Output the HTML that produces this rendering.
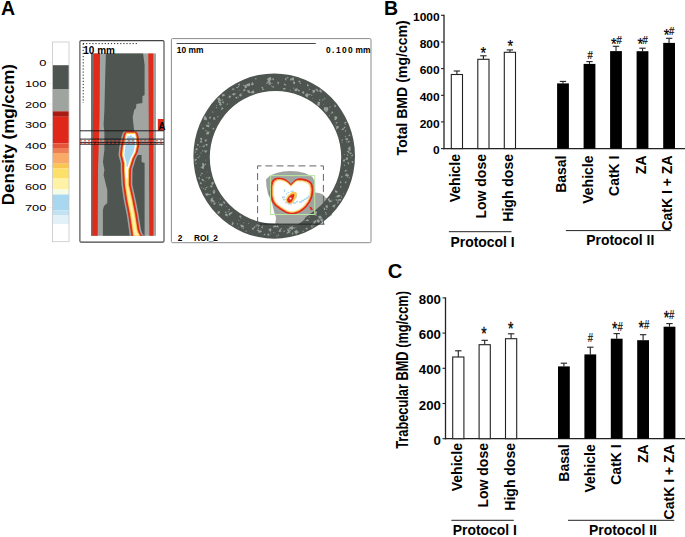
<!DOCTYPE html>
<html><head><meta charset="utf-8"><title>Figure</title>
<style>html,body{margin:0;padding:0;background:#fff;overflow:hidden}svg{display:block}text{font-family:"Liberation Sans",Arial,sans-serif;fill:#000}.b{font-weight:bold}</style></head><body>
<svg width="685" height="537" viewBox="0 0 685 537">
<rect width="685" height="537" fill="#fff"/>
<text class="b" x="1" y="15" font-size="19.5">A</text>
<text class="b" x="384" y="15" font-size="19.5">B</text>
<text class="b" x="387.8" y="277.7" font-size="20.2">C</text>
<text class="b" font-size="17.2" text-anchor="middle" transform="translate(14.4,134.7) rotate(-90) scale(0.985,1)">Density (mg/ccm)</text>
<rect x="52.5" y="42" width="16.5" height="23.2" fill="#ffffff"/>
<rect x="52.5" y="65.2" width="16.5" height="23.8" fill="#4e5450"/>
<rect x="52.5" y="89" width="16.5" height="22.3" fill="#a0a4a1"/>
<rect x="52.5" y="111.3" width="16.5" height="5.5" fill="#a81c12"/>
<rect x="52.5" y="116.8" width="16.5" height="26.5" fill="#e0281a"/>
<rect x="52.5" y="143.3" width="16.5" height="4.7" fill="#e5553a"/>
<rect x="52.5" y="148" width="16.5" height="5.0" fill="#ee7f55"/>
<rect x="52.5" y="153" width="16.5" height="10.7" fill="#f8aa66"/>
<rect x="52.5" y="163.7" width="16.5" height="4.8" fill="#fbc552"/>
<rect x="52.5" y="168.5" width="16.5" height="9.5" fill="#fde06a"/>
<rect x="52.5" y="178" width="16.5" height="11.4" fill="#fff2a6"/>
<rect x="52.5" y="189.4" width="16.5" height="5.1" fill="#f6fbe6"/>
<rect x="52.5" y="194.5" width="16.5" height="15.9" fill="#a9d7ef"/>
<rect x="52.5" y="210.4" width="16.5" height="4.6" fill="#c2e2f2"/>
<rect x="52.5" y="215" width="16.5" height="9.0" fill="#e2f1f8"/>
<rect x="52.5" y="224" width="16.5" height="17.7" fill="#ffffff"/>
<rect x="52.5" y="42" width="16.5" height="199.7" fill="none" stroke="#c8c8c8" stroke-width="0.8"/>
<text font-size="8.8" text-anchor="end" transform="translate(46.4,66.0) scale(1.46,1)" fill="#222">0</text>
<line x1="47.5" x2="52" y1="62.6" y2="62.6" stroke="#eee" stroke-width="0.8"/>
<text font-size="8.8" text-anchor="end" transform="translate(46.4,86.8) scale(1.46,1)" fill="#222">100</text>
<line x1="47.5" x2="52" y1="83.3" y2="83.3" stroke="#eee" stroke-width="0.8"/>
<text font-size="8.8" text-anchor="end" transform="translate(46.4,107.5) scale(1.46,1)" fill="#222">200</text>
<line x1="47.5" x2="52" y1="104.0" y2="104.0" stroke="#eee" stroke-width="0.8"/>
<text font-size="8.8" text-anchor="end" transform="translate(46.4,128.2) scale(1.46,1)" fill="#222">300</text>
<line x1="47.5" x2="52" y1="124.7" y2="124.7" stroke="#eee" stroke-width="0.8"/>
<text font-size="8.8" text-anchor="end" transform="translate(46.4,148.8) scale(1.46,1)" fill="#222">400</text>
<line x1="47.5" x2="52" y1="145.4" y2="145.4" stroke="#eee" stroke-width="0.8"/>
<text font-size="8.8" text-anchor="end" transform="translate(46.4,169.6) scale(1.46,1)" fill="#222">500</text>
<line x1="47.5" x2="52" y1="166.1" y2="166.1" stroke="#eee" stroke-width="0.8"/>
<text font-size="8.8" text-anchor="end" transform="translate(46.4,190.2) scale(1.46,1)" fill="#222">600</text>
<line x1="47.5" x2="52" y1="186.8" y2="186.8" stroke="#eee" stroke-width="0.8"/>
<text font-size="8.8" text-anchor="end" transform="translate(46.4,211.0) scale(1.46,1)" fill="#222">700</text>
<line x1="47.5" x2="52" y1="207.5" y2="207.5" stroke="#eee" stroke-width="0.8"/>
<g>
<rect x="79.9" y="40.6" width="84.1" height="201.5" rx="1.2" fill="#fff" stroke="#444" stroke-width="1.1"/>
<rect x="91" y="53.4" width="65" height="182.4" fill="#a1a5a2"/>
<rect x="91" y="53.4" width="2.3" height="182.4" fill="#6c726e"/>
<path d="M105.9 53.4 L105.1 80 L104.4 110 L103.6 125 L104.4 132 L104.4 150 L102.9 162 L104.4 170 L103.6 175 L106 185 L107.3 190 L107.3 203 L104 206 L102.9 210 L102.9 235.8 L144.6 235.8 L144.6 163 L141.6 162 L141.6 155 L137 155 L137 131 L134.2 131 L133.4 124.5 L132.7 117 L134.2 110 L136 108 L136.4 104 L142.4 103 L142.4 96.2 L144.6 95 L144.6 65 L143.1 53.4 Z" fill="#4f5551"/>
<path d="M93.3 53.4 L100 53.4 L99.5 120 L98 170 L97.7 235.8 L92.5 235.8 L92.6 170 L93.2 100 Z" fill="#e02a1a"/>
<path d="M148.3 53.4 L153.3 53.4 L153.5 235.8 L149.3 235.8 L148.8 130 Z" fill="#e02a1a"/>
<path d="M127.5 130.8 L124.7 131.3 L123.6 131.8 L123.3 132.3 L123.0 132.8 L122.7 133.3 L122.4 133.8 L122.2 134.3 L122.1 134.8 L121.9 135.3 L121.8 135.8 L121.7 136.3 L121.5 136.8 L121.4 137.3 L121.3 137.8 L121.2 138.3 L121.1 138.8 L121.0 139.3 L120.9 139.8 L120.8 140.3 L120.7 140.8 L120.6 141.3 L120.5 141.8 L120.4 142.3 L120.3 142.8 L120.1 143.3 L120.0 143.8 L119.9 144.3 L119.8 144.8 L119.7 145.3 L119.6 145.8 L119.5 146.3 L119.4 146.8 L119.3 147.3 L119.2 147.8 L119.2 148.3 L119.1 148.8 L119.1 149.3 L119.0 149.8 L119.0 150.3 L118.9 150.8 L118.9 151.3 L118.8 151.8 L118.8 152.3 L118.7 152.8 L118.7 153.3 L118.6 153.8 L118.6 154.3 L118.5 154.8 L118.6 155.3 L118.7 155.8 L118.9 156.3 L119.0 156.8 L119.1 157.3 L119.2 157.8 L119.4 158.3 L119.5 158.8 L119.6 159.3 L119.7 159.8 L119.9 160.3 L120.0 160.8 L120.1 161.3 L120.2 161.8 L120.4 162.3 L120.5 162.8 L120.6 163.3 L120.7 163.8 L120.7 164.3 L120.7 164.8 L120.7 165.3 L120.7 165.8 L120.7 166.3 L120.7 166.8 L120.7 167.3 L120.7 167.8 L120.7 168.3 L120.7 168.8 L120.7 169.3 L120.7 169.8 L120.7 170.3 L120.7 170.8 L120.8 171.3 L120.8 171.8 L120.8 172.3 L120.9 172.8 L120.9 173.3 L120.9 173.8 L120.9 174.3 L121.0 174.8 L121.0 175.3 L121.0 175.8 L121.0 176.3 L121.1 176.8 L121.1 177.3 L121.1 177.8 L121.1 178.3 L121.2 178.8 L121.2 179.3 L121.2 179.8 L121.3 180.3 L121.3 180.8 L121.3 181.3 L121.3 181.8 L121.4 182.3 L121.4 182.8 L121.4 183.3 L121.4 183.8 L121.5 184.3 L121.5 184.8 L121.6 185.3 L121.6 185.8 L121.7 186.3 L121.8 186.8 L121.9 187.3 L121.9 187.8 L122.0 188.3 L122.1 188.8 L122.1 189.3 L122.2 189.8 L122.3 190.3 L122.4 190.8 L122.4 191.3 L122.5 191.8 L122.6 192.3 L122.7 192.8 L122.7 193.3 L122.8 193.8 L122.9 194.3 L123.0 194.8 L123.0 195.3 L123.1 195.8 L123.2 196.3 L123.3 196.8 L123.3 197.3 L123.4 197.8 L123.5 198.3 L123.6 198.8 L123.6 199.3 L123.7 199.8 L123.8 200.3 L123.9 200.8 L124.0 201.3 L124.1 201.8 L124.2 202.3 L124.3 202.8 L124.4 203.3 L124.5 203.8 L124.6 204.3 L124.7 204.8 L124.8 205.3 L124.9 205.8 L125.0 206.3 L125.1 206.8 L125.2 207.3 L125.3 207.8 L125.4 208.3 L125.5 208.8 L125.6 209.3 L125.7 209.8 L125.8 210.3 L125.9 210.8 L126.0 211.3 L126.1 211.8 L126.2 212.3 L126.3 212.8 L126.4 213.3 L126.5 213.8 L126.6 214.3 L126.7 214.8 L126.8 215.3 L126.9 215.8 L126.9 216.3 L127.0 216.8 L127.1 217.3 L127.2 217.8 L127.2 218.3 L127.3 218.8 L127.4 219.3 L127.5 219.8 L127.5 220.3 L127.6 220.8 L127.7 221.3 L127.7 221.8 L127.8 222.3 L127.9 222.8 L128.0 223.3 L128.0 223.8 L128.1 224.3 L128.2 224.8 L128.3 225.3 L128.3 225.8 L128.4 226.3 L128.5 226.8 L128.6 227.3 L128.6 227.8 L128.7 228.3 L128.8 228.8 L128.9 229.3 L128.9 229.8 L129.0 230.3 L129.1 230.8 L129.1 231.3 L129.2 231.8 L129.2 232.3 L129.3 232.8 L129.4 233.3 L129.4 233.8 L129.5 234.3 L129.6 234.8 L129.6 235.3 L129.7 235.8 L143.9 235.8 L143.6 235.3 L143.2 234.8 L142.9 234.3 L142.5 233.8 L142.2 233.3 L141.9 232.8 L141.8 232.3 L141.6 231.8 L141.5 231.3 L141.3 230.8 L141.1 230.3 L141.0 229.8 L140.9 229.3 L140.8 228.8 L140.7 228.3 L140.6 227.8 L140.5 227.3 L140.5 226.8 L140.4 226.3 L140.3 225.8 L140.2 225.3 L140.2 224.8 L140.1 224.3 L140.0 223.8 L139.9 223.3 L139.9 222.8 L139.8 222.3 L139.7 221.8 L139.6 221.3 L139.5 220.8 L139.5 220.3 L139.4 219.8 L139.3 219.3 L139.2 218.8 L139.2 218.3 L139.1 217.8 L139.0 217.3 L138.9 216.8 L138.8 216.3 L138.8 215.8 L138.7 215.3 L138.6 214.8 L138.5 214.3 L138.4 213.8 L138.3 213.3 L138.2 212.8 L138.1 212.3 L138.0 211.8 L137.9 211.3 L137.8 210.8 L137.7 210.3 L137.6 209.8 L137.5 209.3 L137.5 208.8 L137.4 208.3 L137.3 207.8 L137.2 207.3 L137.1 206.8 L137.0 206.3 L136.9 205.8 L136.8 205.3 L136.7 204.8 L136.6 204.3 L136.5 203.8 L136.4 203.3 L136.3 202.8 L136.2 202.3 L136.1 201.8 L136.0 201.3 L135.9 200.8 L135.8 200.3 L135.7 199.8 L135.6 199.3 L135.5 198.8 L135.4 198.3 L135.3 197.8 L135.1 197.3 L135.0 196.8 L134.9 196.3 L134.8 195.8 L134.7 195.3 L134.6 194.8 L134.5 194.3 L134.4 193.8 L134.2 193.3 L134.1 192.8 L134.0 192.3 L133.9 191.8 L133.8 191.3 L133.7 190.8 L133.6 190.3 L133.5 189.8 L133.4 189.3 L133.2 188.8 L133.1 188.3 L133.0 187.8 L132.9 187.3 L132.8 186.8 L132.7 186.3 L132.6 185.8 L132.5 185.3 L132.3 184.8 L132.3 184.3 L132.3 183.8 L132.3 183.3 L132.3 182.8 L132.3 182.3 L132.3 181.8 L132.3 181.3 L132.4 180.8 L132.4 180.3 L132.4 179.8 L132.4 179.3 L132.4 178.8 L132.4 178.3 L132.4 177.8 L132.4 177.3 L132.4 176.8 L132.4 176.3 L132.4 175.8 L132.4 175.3 L132.4 174.8 L132.4 174.3 L132.4 173.8 L132.5 173.3 L132.5 172.8 L132.5 172.3 L132.5 171.8 L132.5 171.3 L132.5 170.8 L132.5 170.3 L132.5 169.8 L132.6 169.3 L132.8 168.8 L132.9 168.3 L133.1 167.8 L133.2 167.3 L133.4 166.8 L133.5 166.3 L133.7 165.8 L133.9 165.3 L134.0 164.8 L134.2 164.3 L134.3 163.8 L134.5 163.3 L134.6 162.8 L134.8 162.3 L134.9 161.8 L135.1 161.3 L135.2 160.8 L135.4 160.3 L135.5 159.8 L135.7 159.3 L135.9 158.8 L136.2 158.3 L136.4 157.8 L136.7 157.3 L136.9 156.8 L137.2 156.3 L137.4 155.8 L137.7 155.3 L137.9 154.8 L138.2 154.3 L138.4 153.8 L138.7 153.3 L138.9 152.8 L139.2 152.3 L139.4 151.8 L139.5 151.3 L139.6 150.8 L139.7 150.3 L139.8 149.8 L139.9 149.3 L140.0 148.8 L140.1 148.3 L140.2 147.8 L140.3 147.3 L140.4 146.8 L140.5 146.3 L140.6 145.8 L140.7 145.3 L140.8 144.8 L140.9 144.3 L140.8 143.8 L140.8 143.3 L140.7 142.8 L140.7 142.3 L140.6 141.8 L140.6 141.3 L140.5 140.8 L140.5 140.3 L140.4 139.8 L140.4 139.3 L140.3 138.8 L140.2 138.3 L140.2 137.8 L140.1 137.3 L140.1 136.8 L140.0 136.3 L139.8 135.8 L139.7 135.3 L139.6 134.8 L139.5 134.3 L139.3 133.8 L138.9 133.3 L138.5 132.8 L138.0 132.3 L137.6 131.8 L135.9 131.3 L132.5 130.8 Z" fill="#a1a5a2"/>
<path d="M129.0 130.8 L126.2 131.3 L125.1 131.8 L124.8 132.3 L124.5 132.8 L124.2 133.3 L123.9 133.8 L123.7 134.3 L123.6 134.8 L123.4 135.3 L123.3 135.8 L123.2 136.3 L123.0 136.8 L122.9 137.3 L122.8 137.8 L122.7 138.3 L122.6 138.8 L122.5 139.3 L122.4 139.8 L122.3 140.3 L122.2 140.8 L122.1 141.3 L122.0 141.8 L121.9 142.3 L121.8 142.8 L121.6 143.3 L121.5 143.8 L121.4 144.3 L121.3 144.8 L121.2 145.3 L121.1 145.8 L121.0 146.3 L120.9 146.8 L120.8 147.3 L120.7 147.8 L120.7 148.3 L120.6 148.8 L120.6 149.3 L120.5 149.8 L120.5 150.3 L120.4 150.8 L120.4 151.3 L120.3 151.8 L120.3 152.3 L120.2 152.8 L120.2 153.3 L120.1 153.8 L120.1 154.3 L120.0 154.8 L120.1 155.3 L120.2 155.8 L120.4 156.3 L120.5 156.8 L120.6 157.3 L120.7 157.8 L120.9 158.3 L121.0 158.8 L121.1 159.3 L121.2 159.8 L121.4 160.3 L121.5 160.8 L121.6 161.3 L121.7 161.8 L121.9 162.3 L122.0 162.8 L122.1 163.3 L122.2 163.8 L122.2 164.3 L122.2 164.8 L122.2 165.3 L122.2 165.8 L122.2 166.3 L122.2 166.8 L122.2 167.3 L122.2 167.8 L122.2 168.3 L122.2 168.8 L122.2 169.3 L122.2 169.8 L122.2 170.3 L122.2 170.8 L122.3 171.3 L122.3 171.8 L122.3 172.3 L122.4 172.8 L122.4 173.3 L122.4 173.8 L122.4 174.3 L122.5 174.8 L122.5 175.3 L122.5 175.8 L122.5 176.3 L122.6 176.8 L122.6 177.3 L122.6 177.8 L122.6 178.3 L122.7 178.8 L122.7 179.3 L122.7 179.8 L122.8 180.3 L122.8 180.8 L122.8 181.3 L122.8 181.8 L122.9 182.3 L122.9 182.8 L122.9 183.3 L122.9 183.8 L123.0 184.3 L123.0 184.8 L123.1 185.3 L123.1 185.8 L123.2 186.3 L123.3 186.8 L123.4 187.3 L123.4 187.8 L123.5 188.3 L123.6 188.8 L123.6 189.3 L123.7 189.8 L123.8 190.3 L123.9 190.8 L123.9 191.3 L124.0 191.8 L124.1 192.3 L124.2 192.8 L124.2 193.3 L124.3 193.8 L124.4 194.3 L124.5 194.8 L124.5 195.3 L124.6 195.8 L124.7 196.3 L124.8 196.8 L124.8 197.3 L124.9 197.8 L125.0 198.3 L125.1 198.8 L125.1 199.3 L125.2 199.8 L125.3 200.3 L125.4 200.8 L125.5 201.3 L125.6 201.8 L125.7 202.3 L125.8 202.8 L125.9 203.3 L126.0 203.8 L126.1 204.3 L126.2 204.8 L126.3 205.3 L126.4 205.8 L126.5 206.3 L126.6 206.8 L126.7 207.3 L126.8 207.8 L126.9 208.3 L127.0 208.8 L127.1 209.3 L127.2 209.8 L127.3 210.3 L127.4 210.8 L127.5 211.3 L127.6 211.8 L127.7 212.3 L127.8 212.8 L127.9 213.3 L128.0 213.8 L128.1 214.3 L128.2 214.8 L128.3 215.3 L128.4 215.8 L128.4 216.3 L128.5 216.8 L128.6 217.3 L128.7 217.8 L128.7 218.3 L128.8 218.8 L128.9 219.3 L129.0 219.8 L129.0 220.3 L129.1 220.8 L129.2 221.3 L129.2 221.8 L129.3 222.3 L129.4 222.8 L129.5 223.3 L129.5 223.8 L129.6 224.3 L129.7 224.8 L129.8 225.3 L129.8 225.8 L129.9 226.3 L130.0 226.8 L130.1 227.3 L130.1 227.8 L130.2 228.3 L130.3 228.8 L130.4 229.3 L130.4 229.8 L130.5 230.3 L130.6 230.8 L130.6 231.3 L130.7 231.8 L130.7 232.3 L130.8 232.8 L130.9 233.3 L130.9 233.8 L131.0 234.3 L131.1 234.8 L131.1 235.3 L131.2 235.8 L142.4 235.8 L142.1 235.3 L141.7 234.8 L141.4 234.3 L141.0 233.8 L140.7 233.3 L140.4 232.8 L140.3 232.3 L140.1 231.8 L140.0 231.3 L139.8 230.8 L139.6 230.3 L139.5 229.8 L139.4 229.3 L139.3 228.8 L139.2 228.3 L139.1 227.8 L139.0 227.3 L139.0 226.8 L138.9 226.3 L138.8 225.8 L138.7 225.3 L138.7 224.8 L138.6 224.3 L138.5 223.8 L138.4 223.3 L138.4 222.8 L138.3 222.3 L138.2 221.8 L138.1 221.3 L138.0 220.8 L138.0 220.3 L137.9 219.8 L137.8 219.3 L137.7 218.8 L137.7 218.3 L137.6 217.8 L137.5 217.3 L137.4 216.8 L137.3 216.3 L137.3 215.8 L137.2 215.3 L137.1 214.8 L137.0 214.3 L136.9 213.8 L136.8 213.3 L136.7 212.8 L136.6 212.3 L136.5 211.8 L136.4 211.3 L136.3 210.8 L136.2 210.3 L136.1 209.8 L136.0 209.3 L136.0 208.8 L135.9 208.3 L135.8 207.8 L135.7 207.3 L135.6 206.8 L135.5 206.3 L135.4 205.8 L135.3 205.3 L135.2 204.8 L135.1 204.3 L135.0 203.8 L134.9 203.3 L134.8 202.8 L134.7 202.3 L134.6 201.8 L134.5 201.3 L134.4 200.8 L134.3 200.3 L134.2 199.8 L134.1 199.3 L134.0 198.8 L133.9 198.3 L133.8 197.8 L133.6 197.3 L133.5 196.8 L133.4 196.3 L133.3 195.8 L133.2 195.3 L133.1 194.8 L133.0 194.3 L132.9 193.8 L132.7 193.3 L132.6 192.8 L132.5 192.3 L132.4 191.8 L132.3 191.3 L132.2 190.8 L132.1 190.3 L132.0 189.8 L131.9 189.3 L131.7 188.8 L131.6 188.3 L131.5 187.8 L131.4 187.3 L131.3 186.8 L131.2 186.3 L131.1 185.8 L131.0 185.3 L130.8 184.8 L130.8 184.3 L130.8 183.8 L130.8 183.3 L130.8 182.8 L130.8 182.3 L130.8 181.8 L130.8 181.3 L130.9 180.8 L130.9 180.3 L130.9 179.8 L130.9 179.3 L130.9 178.8 L130.9 178.3 L130.9 177.8 L130.9 177.3 L130.9 176.8 L130.9 176.3 L130.9 175.8 L130.9 175.3 L130.9 174.8 L130.9 174.3 L130.9 173.8 L131.0 173.3 L131.0 172.8 L131.0 172.3 L131.0 171.8 L131.0 171.3 L131.0 170.8 L131.0 170.3 L131.0 169.8 L131.1 169.3 L131.3 168.8 L131.4 168.3 L131.6 167.8 L131.7 167.3 L131.9 166.8 L132.0 166.3 L132.2 165.8 L132.4 165.3 L132.5 164.8 L132.7 164.3 L132.8 163.8 L133.0 163.3 L133.1 162.8 L133.3 162.3 L133.4 161.8 L133.6 161.3 L133.7 160.8 L133.9 160.3 L134.0 159.8 L134.2 159.3 L134.4 158.8 L134.7 158.3 L134.9 157.8 L135.2 157.3 L135.4 156.8 L135.7 156.3 L135.9 155.8 L136.2 155.3 L136.4 154.8 L136.7 154.3 L136.9 153.8 L137.2 153.3 L137.4 152.8 L137.7 152.3 L137.9 151.8 L138.0 151.3 L138.1 150.8 L138.2 150.3 L138.3 149.8 L138.4 149.3 L138.5 148.8 L138.6 148.3 L138.7 147.8 L138.8 147.3 L138.9 146.8 L139.0 146.3 L139.1 145.8 L139.2 145.3 L139.3 144.8 L139.4 144.3 L139.3 143.8 L139.3 143.3 L139.2 142.8 L139.2 142.3 L139.1 141.8 L139.1 141.3 L139.0 140.8 L139.0 140.3 L138.9 139.8 L138.9 139.3 L138.8 138.8 L138.7 138.3 L138.7 137.8 L138.6 137.3 L138.6 136.8 L138.5 136.3 L138.3 135.8 L138.2 135.3 L138.1 134.8 L138.0 134.3 L137.8 133.8 L137.4 133.3 L137.0 132.8 L136.5 132.3 L136.1 131.8 L134.4 131.3 L131.0 130.8 Z" fill="#e02a1a"/>
<path d="M126.5 132.6 L126.1 133.1 L125.8 133.6 L125.6 134.1 L125.4 134.6 L125.3 135.1 L125.2 135.6 L125.0 136.1 L124.9 136.6 L124.8 137.1 L124.7 137.6 L124.5 138.1 L124.4 138.6 L124.3 139.1 L124.2 139.6 L124.1 140.1 L124.0 140.6 L123.9 141.1 L123.8 141.6 L123.7 142.1 L123.6 142.6 L123.5 143.1 L123.4 143.6 L123.3 144.1 L123.2 144.6 L123.1 145.1 L123.0 145.6 L122.9 146.1 L122.7 146.6 L122.6 147.1 L122.6 147.6 L122.5 148.1 L122.5 148.6 L122.4 149.1 L122.4 149.6 L122.3 150.1 L122.2 150.6 L122.2 151.1 L122.1 151.6 L122.1 152.1 L122.0 152.6 L122.0 153.1 L121.9 153.6 L121.9 154.1 L121.8 154.6 L121.9 155.1 L122.0 155.6 L122.1 156.1 L122.2 156.6 L122.4 157.1 L122.5 157.6 L122.6 158.1 L122.7 158.6 L122.9 159.1 L123.0 159.6 L123.1 160.1 L123.2 160.6 L123.4 161.1 L123.5 161.6 L123.6 162.1 L123.7 162.6 L123.9 163.1 L124.0 163.6 L124.0 164.1 L124.0 164.6 L124.0 165.1 L124.0 165.6 L124.0 166.1 L124.0 166.6 L124.0 167.1 L124.0 167.6 L124.0 168.1 L124.0 168.6 L124.0 169.1 L124.0 169.6 L124.0 170.1 L124.0 170.6 L124.1 171.1 L124.1 171.6 L124.1 172.1 L124.1 172.6 L124.2 173.1 L124.2 173.6 L124.2 174.1 L124.2 174.6 L124.3 175.1 L124.3 175.6 L124.3 176.1 L124.4 176.6 L124.4 177.1 L124.4 177.6 L124.4 178.1 L124.5 178.6 L124.5 179.1 L124.5 179.6 L124.5 180.1 L124.6 180.6 L124.6 181.1 L124.6 181.6 L124.6 182.1 L124.7 182.6 L124.7 183.1 L124.7 183.6 L124.8 184.1 L124.8 184.6 L124.8 185.1 L124.9 185.6 L125.0 186.1 L125.1 186.6 L125.1 187.1 L125.2 187.6 L125.3 188.1 L125.3 188.6 L125.4 189.1 L125.5 189.6 L125.6 190.1 L125.6 190.6 L125.7 191.1 L125.8 191.6 L125.9 192.1 L125.9 192.6 L126.0 193.1 L126.1 193.6 L126.2 194.1 L126.2 194.6 L126.3 195.1 L126.4 195.6 L126.5 196.1 L126.5 196.6 L126.6 197.1 L126.7 197.6 L126.7 198.1 L126.8 198.6 L126.9 199.1 L127.0 199.6 L127.1 200.1 L127.2 200.6 L127.3 201.1 L127.4 201.6 L127.5 202.1 L127.6 202.6 L127.7 203.1 L127.8 203.6 L127.9 204.1 L128.0 204.6 L128.1 205.1 L128.2 205.6 L128.3 206.1 L128.4 206.6 L128.5 207.1 L128.6 207.6 L128.7 208.1 L128.8 208.6 L128.9 209.1 L129.0 209.6 L129.1 210.1 L129.2 210.6 L129.3 211.1 L129.4 211.6 L129.5 212.1 L129.6 212.6 L129.7 213.1 L129.8 213.6 L129.9 214.1 L130.0 214.6 L130.1 215.1 L130.1 215.6 L130.2 216.1 L130.3 216.6 L130.4 217.1 L130.4 217.6 L130.5 218.1 L130.6 218.6 L130.6 219.1 L130.7 219.6 L130.8 220.1 L130.9 220.6 L130.9 221.1 L131.0 221.6 L131.1 222.1 L131.2 222.6 L131.2 223.1 L131.3 223.6 L131.4 224.1 L131.5 224.6 L131.5 225.1 L131.6 225.6 L131.7 226.1 L131.8 226.6 L131.8 227.1 L131.9 227.6 L132.0 228.1 L132.1 228.6 L132.1 229.1 L132.2 229.6 L132.3 230.1 L132.3 230.6 L132.4 231.1 L132.5 231.6 L132.5 232.1 L132.6 232.6 L132.7 233.1 L132.7 233.6 L132.8 234.1 L132.8 234.6 L132.9 235.1 L133.0 235.6 L140.5 235.6 L140.1 235.1 L139.8 234.6 L139.4 234.1 L139.1 233.6 L138.8 233.1 L138.6 232.6 L138.4 232.1 L138.2 231.6 L138.1 231.1 L137.9 230.6 L137.8 230.1 L137.6 229.6 L137.5 229.1 L137.4 228.6 L137.4 228.1 L137.3 227.6 L137.2 227.1 L137.1 226.6 L137.1 226.1 L137.0 225.6 L136.9 225.1 L136.8 224.6 L136.8 224.1 L136.7 223.6 L136.6 223.1 L136.5 222.6 L136.4 222.1 L136.4 221.6 L136.3 221.1 L136.2 220.6 L136.1 220.1 L136.1 219.6 L136.0 219.1 L135.9 218.6 L135.8 218.1 L135.7 217.6 L135.7 217.1 L135.6 216.6 L135.5 216.1 L135.4 215.6 L135.4 215.1 L135.3 214.6 L135.2 214.1 L135.1 213.6 L135.0 213.1 L134.9 212.6 L134.8 212.1 L134.7 211.6 L134.6 211.1 L134.5 210.6 L134.4 210.1 L134.3 209.6 L134.2 209.1 L134.1 208.6 L134.0 208.1 L133.9 207.6 L133.8 207.1 L133.7 206.6 L133.6 206.1 L133.5 205.6 L133.4 205.1 L133.3 204.6 L133.2 204.1 L133.1 203.6 L133.0 203.1 L132.9 202.6 L132.8 202.1 L132.8 201.6 L132.7 201.1 L132.6 200.6 L132.5 200.1 L132.4 199.6 L132.2 199.1 L132.1 198.6 L132.0 198.1 L131.9 197.6 L131.8 197.1 L131.7 196.6 L131.6 196.1 L131.5 195.6 L131.3 195.1 L131.2 194.6 L131.1 194.1 L131.0 193.6 L130.9 193.1 L130.8 192.6 L130.7 192.1 L130.6 191.6 L130.5 191.1 L130.3 190.6 L130.2 190.1 L130.1 189.6 L130.0 189.1 L129.9 188.6 L129.8 188.1 L129.7 187.6 L129.6 187.1 L129.4 186.6 L129.3 186.1 L129.2 185.6 L129.1 185.1 L129.0 184.6 L129.0 184.1 L129.0 183.6 L129.0 183.1 L129.0 182.6 L129.0 182.1 L129.0 181.6 L129.0 181.1 L129.1 180.6 L129.1 180.1 L129.1 179.6 L129.1 179.1 L129.1 178.6 L129.1 178.1 L129.1 177.6 L129.1 177.1 L129.1 176.6 L129.1 176.1 L129.1 175.6 L129.1 175.1 L129.1 174.6 L129.1 174.1 L129.1 173.6 L129.2 173.1 L129.2 172.6 L129.2 172.1 L129.2 171.6 L129.2 171.1 L129.2 170.6 L129.2 170.1 L129.2 169.6 L129.4 169.1 L129.5 168.6 L129.7 168.1 L129.8 167.6 L130.0 167.1 L130.2 166.6 L130.3 166.1 L130.5 165.6 L130.6 165.1 L130.8 164.6 L130.9 164.1 L131.1 163.6 L131.2 163.1 L131.4 162.6 L131.5 162.1 L131.7 161.6 L131.8 161.1 L132.0 160.6 L132.2 160.1 L132.3 159.6 L132.5 159.1 L132.7 158.6 L133.0 158.1 L133.2 157.6 L133.5 157.1 L133.7 156.6 L134.0 156.1 L134.2 155.6 L134.5 155.1 L134.7 154.6 L135.0 154.1 L135.2 153.6 L135.5 153.1 L135.7 152.6 L136.0 152.1 L136.1 151.6 L136.2 151.1 L136.3 150.6 L136.4 150.1 L136.5 149.6 L136.6 149.1 L136.7 148.6 L136.8 148.1 L137.0 147.6 L137.1 147.1 L137.2 146.6 L137.3 146.1 L137.4 145.6 L137.5 145.1 L137.6 144.6 L137.6 144.1 L137.5 143.6 L137.5 143.1 L137.4 142.6 L137.4 142.1 L137.3 141.6 L137.2 141.1 L137.2 140.6 L137.1 140.1 L137.1 139.6 L137.0 139.1 L137.0 138.6 L136.9 138.1 L136.9 137.6 L136.8 137.1 L136.7 136.6 L136.6 136.1 L136.5 135.6 L136.4 135.1 L136.3 134.6 L136.1 134.1 L135.8 133.6 L135.4 133.1 L135.0 132.6 Z" fill="#f59a3c"/>
<path d="M126.7 133.2 L126.4 133.7 L126.1 134.2 L126.0 134.7 L125.9 135.2 L125.7 135.7 L125.6 136.2 L125.5 136.7 L125.3 137.2 L125.2 137.7 L125.1 138.2 L125.0 138.7 L124.9 139.2 L124.8 139.7 L124.7 140.2 L124.6 140.7 L124.5 141.2 L124.4 141.7 L124.3 142.2 L124.2 142.7 L124.1 143.2 L124.0 143.7 L123.9 144.2 L123.8 144.7 L123.6 145.2 L123.5 145.7 L123.4 146.2 L123.3 146.7 L123.2 147.2 L123.2 147.7 L123.1 148.2 L123.1 148.7 L123.0 149.2 L122.9 149.7 L122.9 150.2 L122.8 150.7 L122.8 151.2 L122.7 151.7 L122.7 152.2 L122.6 152.7 L122.6 153.2 L122.5 153.7 L122.5 154.2 L122.4 154.7 L122.5 155.2 L122.6 155.7 L122.7 156.2 L122.9 156.7 L123.0 157.2 L123.1 157.7 L123.2 158.2 L123.4 158.7 L123.5 159.2 L123.6 159.7 L123.7 160.2 L123.9 160.7 L124.0 161.2 L124.1 161.7 L124.2 162.2 L124.4 162.7 L124.5 163.2 L124.6 163.7 L124.6 164.2 L124.6 164.7 L124.6 165.2 L124.6 165.7 L124.6 166.2 L124.6 166.7 L124.6 167.2 L124.6 167.7 L124.6 168.2 L124.6 168.7 L124.6 169.2 L124.6 169.7 L124.6 170.2 L124.6 170.7 L124.7 171.2 L124.7 171.7 L124.7 172.2 L124.7 172.7 L124.8 173.2 L124.8 173.7 L124.8 174.2 L124.9 174.7 L124.9 175.2 L124.9 175.7 L124.9 176.2 L125.0 176.7 L125.0 177.2 L125.0 177.7 L125.0 178.2 L125.1 178.7 L125.1 179.2 L125.1 179.7 L125.1 180.2 L125.2 180.7 L125.2 181.2 L125.2 181.7 L125.3 182.2 L125.3 182.7 L125.3 183.2 L125.3 183.7 L125.4 184.2 L125.4 184.7 L125.4 185.2 L125.5 185.7 L125.6 186.2 L125.7 186.7 L125.7 187.2 L125.8 187.7 L125.9 188.2 L126.0 188.7 L126.0 189.2 L126.1 189.7 L126.2 190.2 L126.3 190.7 L126.3 191.2 L126.4 191.7 L126.5 192.2 L126.6 192.7 L126.6 193.2 L126.7 193.7 L126.8 194.2 L126.8 194.7 L126.9 195.2 L127.0 195.7 L127.1 196.2 L127.1 196.7 L127.2 197.2 L127.3 197.7 L127.4 198.2 L127.4 198.7 L127.5 199.2 L127.6 199.7 L127.7 200.2 L127.8 200.7 L127.9 201.2 L128.0 201.7 L128.1 202.2 L128.2 202.7 L128.3 203.2 L128.4 203.7 L128.5 204.2 L128.6 204.7 L128.7 205.2 L128.8 205.7 L128.9 206.2 L129.0 206.7 L129.1 207.2 L129.2 207.7 L129.3 208.2 L129.4 208.7 L129.5 209.2 L129.6 209.7 L129.7 210.2 L129.8 210.7 L129.9 211.2 L130.0 211.7 L130.1 212.2 L130.2 212.7 L130.3 213.2 L130.4 213.7 L130.5 214.2 L130.6 214.7 L130.7 215.2 L130.7 215.7 L130.8 216.2 L130.9 216.7 L131.0 217.2 L131.0 217.7 L131.1 218.2 L131.2 218.7 L131.3 219.2 L131.3 219.7 L131.4 220.2 L131.5 220.7 L131.6 221.2 L131.6 221.7 L131.7 222.2 L131.8 222.7 L131.9 223.2 L131.9 223.7 L132.0 224.2 L132.1 224.7 L132.2 225.2 L132.2 225.7 L132.3 226.2 L132.4 226.7 L132.4 227.2 L132.5 227.7 L132.6 228.2 L132.7 228.7 L132.7 229.2 L132.8 229.7 L132.9 230.2 L132.9 230.7 L133.0 231.2 L133.1 231.7 L133.1 232.2 L133.2 232.7 L133.3 233.2 L133.3 233.7 L133.4 234.2 L133.5 234.7 L133.5 235.2 L133.6 235.7 L139.9 235.7 L139.6 235.2 L139.3 234.7 L138.9 234.2 L138.6 233.7 L138.2 233.2 L138.0 232.7 L137.8 232.2 L137.7 231.7 L137.5 231.2 L137.4 230.7 L137.2 230.2 L137.0 229.7 L136.9 229.2 L136.9 228.7 L136.8 228.2 L136.7 227.7 L136.6 227.2 L136.6 226.7 L136.5 226.2 L136.4 225.7 L136.3 225.2 L136.2 224.7 L136.2 224.2 L136.1 223.7 L136.0 223.2 L135.9 222.7 L135.9 222.2 L135.8 221.7 L135.7 221.2 L135.6 220.7 L135.5 220.2 L135.5 219.7 L135.4 219.2 L135.3 218.7 L135.2 218.2 L135.2 217.7 L135.1 217.2 L135.0 216.7 L134.9 216.2 L134.9 215.7 L134.8 215.2 L134.7 214.7 L134.6 214.2 L134.5 213.7 L134.4 213.2 L134.3 212.7 L134.2 212.2 L134.1 211.7 L134.0 211.2 L133.9 210.7 L133.8 210.2 L133.7 209.7 L133.6 209.2 L133.5 208.7 L133.4 208.2 L133.3 207.7 L133.2 207.2 L133.1 206.7 L133.0 206.2 L132.9 205.7 L132.9 205.2 L132.8 204.7 L132.7 204.2 L132.6 203.7 L132.5 203.2 L132.4 202.7 L132.3 202.2 L132.2 201.7 L132.1 201.2 L132.0 200.7 L131.9 200.2 L131.8 199.7 L131.7 199.2 L131.6 198.7 L131.4 198.2 L131.3 197.7 L131.2 197.2 L131.1 196.7 L131.0 196.2 L130.9 195.7 L130.8 195.2 L130.7 194.7 L130.5 194.2 L130.4 193.7 L130.3 193.2 L130.2 192.7 L130.1 192.2 L130.0 191.7 L129.9 191.2 L129.8 190.7 L129.7 190.2 L129.5 189.7 L129.4 189.2 L129.3 188.7 L129.2 188.2 L129.1 187.7 L129.0 187.2 L128.9 186.7 L128.8 186.2 L128.6 185.7 L128.5 185.2 L128.4 184.7 L128.4 184.2 L128.4 183.7 L128.4 183.2 L128.4 182.7 L128.4 182.2 L128.4 181.7 L128.4 181.2 L128.5 180.7 L128.5 180.2 L128.5 179.7 L128.5 179.2 L128.5 178.7 L128.5 178.2 L128.5 177.7 L128.5 177.2 L128.5 176.7 L128.5 176.2 L128.5 175.7 L128.5 175.2 L128.5 174.7 L128.5 174.2 L128.5 173.7 L128.6 173.2 L128.6 172.7 L128.6 172.2 L128.6 171.7 L128.6 171.2 L128.6 170.7 L128.6 170.2 L128.6 169.7 L128.8 169.2 L128.9 168.7 L129.1 168.2 L129.2 167.7 L129.4 167.2 L129.5 166.7 L129.7 166.2 L129.8 165.7 L130.0 165.2 L130.1 164.7 L130.3 164.2 L130.4 163.7 L130.6 163.2 L130.8 162.7 L130.9 162.2 L131.1 161.7 L131.2 161.2 L131.4 160.7 L131.5 160.2 L131.7 159.7 L131.8 159.2 L132.1 158.7 L132.3 158.2 L132.6 157.7 L132.8 157.2 L133.1 156.7 L133.3 156.2 L133.6 155.7 L133.8 155.2 L134.1 154.7 L134.3 154.2 L134.6 153.7 L134.8 153.2 L135.1 152.7 L135.3 152.2 L135.5 151.7 L135.6 151.2 L135.7 150.7 L135.8 150.2 L135.9 149.7 L136.0 149.2 L136.1 148.7 L136.2 148.2 L136.3 147.7 L136.4 147.2 L136.5 146.7 L136.6 146.2 L136.7 145.7 L136.8 145.2 L136.9 144.7 L137.0 144.2 L136.9 143.7 L136.9 143.2 L136.8 142.7 L136.8 142.2 L136.7 141.7 L136.7 141.2 L136.6 140.7 L136.6 140.2 L136.5 139.7 L136.4 139.2 L136.4 138.7 L136.3 138.2 L136.3 137.7 L136.2 137.2 L136.2 136.7 L136.0 136.2 L135.9 135.7 L135.8 135.2 L135.7 134.7 L135.6 134.2 L135.3 133.7 L134.9 133.2 Z" fill="#fde06a"/>
<path d="M127.0 133.9 L126.8 134.4 L126.7 134.9 L126.5 135.4 L126.4 135.9 L126.2 136.4 L126.1 136.9 L126.0 137.4 L125.9 137.9 L125.8 138.4 L125.7 138.9 L125.6 139.4 L125.5 139.9 L125.4 140.4 L125.3 140.9 L125.1 141.4 L125.0 141.9 L124.9 142.4 L124.8 142.9 L124.7 143.4 L124.6 143.9 L124.5 144.4 L124.4 144.9 L124.3 145.4 L124.2 145.9 L124.1 146.4 L124.0 146.9 L123.9 147.4 L123.8 147.9 L123.8 148.4 L123.7 148.9 L123.7 149.4 L123.6 149.9 L123.6 150.4 L123.5 150.9 L123.5 151.4 L123.4 151.9 L123.4 152.4 L123.3 152.9 L123.2 153.4 L123.2 153.9 L123.1 154.4 L123.1 154.9 L123.2 155.4 L123.4 155.9 L123.5 156.4 L123.6 156.9 L123.7 157.4 L123.9 157.9 L124.0 158.4 L124.1 158.9 L124.2 159.4 L124.4 159.9 L124.5 160.4 L124.6 160.9 L124.7 161.4 L124.9 161.9 L125.0 162.4 L125.1 162.9 L125.2 163.4 L125.3 163.9 L125.3 164.4 L125.3 164.9 L125.3 165.4 L125.3 165.9 L125.3 166.4 L125.3 166.9 L125.3 167.4 L125.3 167.9 L125.3 168.4 L125.3 168.9 L125.3 169.4 L125.3 169.9 L125.3 170.4 L125.3 170.9 L125.4 171.4 L125.4 171.9 L125.4 172.4 L125.5 172.9 L125.5 173.4 L125.5 173.9 L125.5 174.4 L125.6 174.9 L125.6 175.4 L125.6 175.9 L125.6 176.4 L125.7 176.9 L125.7 177.4 L125.7 177.9 L127.8 177.9 L127.8 177.4 L127.8 176.9 L127.8 176.4 L127.8 175.9 L127.8 175.4 L127.8 174.9 L127.8 174.4 L127.8 173.9 L127.9 173.4 L127.9 172.9 L127.9 172.4 L127.9 171.9 L127.9 171.4 L127.9 170.9 L127.9 170.4 L127.9 169.9 L128.0 169.4 L128.1 168.9 L128.3 168.4 L128.5 167.9 L128.6 167.4 L128.8 166.9 L128.9 166.4 L129.1 165.9 L129.2 165.4 L129.4 164.9 L129.5 164.4 L129.7 163.9 L129.8 163.4 L130.0 162.9 L130.1 162.4 L130.3 161.9 L130.5 161.4 L130.6 160.9 L130.8 160.4 L130.9 159.9 L131.1 159.4 L131.3 158.9 L131.5 158.4 L131.8 157.9 L132.0 157.4 L132.3 156.9 L132.5 156.4 L132.8 155.9 L133.0 155.4 L133.3 154.9 L133.5 154.4 L133.8 153.9 L134.0 153.4 L134.3 152.9 L134.5 152.4 L134.8 151.9 L134.9 151.4 L135.0 150.9 L135.1 150.4 L135.2 149.9 L135.3 149.4 L135.4 148.9 L135.5 148.4 L135.6 147.9 L135.7 147.4 L135.8 146.9 L135.9 146.4 L136.0 145.9 L136.1 145.4 L136.2 144.9 L136.3 144.4 L136.2 143.9 L136.2 143.4 L136.1 142.9 L136.1 142.4 L136.0 141.9 L136.0 141.4 L135.9 140.9 L135.9 140.4 L135.8 139.9 L135.8 139.4 L135.7 138.9 L135.7 138.4 L135.6 137.9 L135.6 137.4 L135.5 136.9 L135.4 136.4 L135.3 135.9 L135.2 135.4 L135.0 134.9 L134.9 134.4 L134.8 133.9 Z" fill="#ffffff"/>
<path d="M125.9 178.0 L126.0 178.5 L126.0 179.0 L126.0 179.5 L126.0 180.0 L126.1 180.5 L126.1 181.0 L126.1 181.5 L126.1 182.0 L126.2 182.5 L126.2 183.0 L126.2 183.5 L126.3 184.0 L126.3 184.5 L126.3 185.0 L126.4 185.5 L126.5 186.0 L126.5 186.5 L126.6 187.0 L126.7 187.5 L126.8 188.0 L126.8 188.5 L126.9 189.0 L127.0 189.5 L127.1 190.0 L127.1 190.5 L127.2 191.0 L127.3 191.5 L127.3 192.0 L127.4 192.5 L127.5 193.0 L127.6 193.5 L127.6 194.0 L127.7 194.5 L127.8 195.0 L127.9 195.5 L127.9 196.0 L128.0 196.5 L128.1 197.0 L128.2 197.5 L128.2 198.0 L128.3 198.5 L128.4 199.0 L128.5 199.5 L128.5 200.0 L128.6 200.5 L128.7 201.0 L128.8 201.5 L128.9 202.0 L129.0 202.5 L129.1 203.0 L129.2 203.5 L129.3 204.0 L129.4 204.5 L129.5 205.0 L129.6 205.5 L129.7 206.0 L129.8 206.5 L129.9 207.0 L130.1 207.5 L130.2 208.0 L130.3 208.5 L130.4 209.0 L130.5 209.5 L130.6 210.0 L130.7 210.5 L130.8 211.0 L130.9 211.5 L131.0 212.0 L131.1 212.5 L131.2 213.0 L131.3 213.5 L131.4 214.0 L131.5 214.5 L131.5 215.0 L131.6 215.5 L131.7 216.0 L131.8 216.5 L131.8 217.0 L131.9 217.5 L132.0 218.0 L132.1 218.5 L132.1 219.0 L132.2 219.5 L132.3 220.0 L132.4 220.5 L132.4 221.0 L132.5 221.5 L132.6 222.0 L132.7 222.5 L132.7 223.0 L132.8 223.5 L132.9 224.0 L132.9 224.5 L133.0 225.0 L133.1 225.5 L133.2 226.0 L133.2 226.5 L133.3 227.0 L133.4 227.5 L133.5 228.0 L133.5 228.5 L133.6 229.0 L133.7 229.5 L133.8 230.0 L133.8 230.5 L133.9 231.0 L133.9 231.5 L134.0 232.0 L134.1 232.5 L134.1 233.0 L134.2 233.5 L134.3 234.0 L134.3 234.5 L134.4 235.0 L134.5 235.5 L138.9 235.5 L138.6 235.0 L138.2 234.5 L137.9 234.0 L137.5 233.5 L137.2 233.0 L137.0 232.5 L136.9 232.0 L136.7 231.5 L136.6 231.0 L136.4 230.5 L136.2 230.0 L136.1 229.5 L136.0 229.0 L135.9 228.5 L135.9 228.0 L135.8 227.5 L135.7 227.0 L135.6 226.5 L135.5 226.0 L135.5 225.5 L135.4 225.0 L135.3 224.5 L135.2 224.0 L135.2 223.5 L135.1 223.0 L135.0 222.5 L134.9 222.0 L134.8 221.5 L134.8 221.0 L134.7 220.5 L134.6 220.0 L134.5 219.5 L134.5 219.0 L134.4 218.5 L134.3 218.0 L134.2 217.5 L134.2 217.0 L134.1 216.5 L134.0 216.0 L133.9 215.5 L133.8 215.0 L133.8 214.5 L133.7 214.0 L133.6 213.5 L133.5 213.0 L133.4 212.5 L133.3 212.0 L133.2 211.5 L133.1 211.0 L133.0 210.5 L132.9 210.0 L132.8 209.5 L132.7 209.0 L132.6 208.5 L132.5 208.0 L132.4 207.5 L132.3 207.0 L132.2 206.5 L132.1 206.0 L132.0 205.5 L131.9 205.0 L131.8 204.5 L131.7 204.0 L131.6 203.5 L131.5 203.0 L131.4 202.5 L131.3 202.0 L131.2 201.5 L131.1 201.0 L131.0 200.5 L130.9 200.0 L130.8 199.5 L130.7 199.0 L130.6 198.5 L130.5 198.0 L130.4 197.5 L130.3 197.0 L130.2 196.5 L130.0 196.0 L129.9 195.5 L129.8 195.0 L129.7 194.5 L129.6 194.0 L129.5 193.5 L129.4 193.0 L129.3 192.5 L129.2 192.0 L129.0 191.5 L128.9 191.0 L128.8 190.5 L128.7 190.0 L128.6 189.5 L128.5 189.0 L128.4 188.5 L128.3 188.0 L128.1 187.5 L128.0 187.0 L127.9 186.5 L127.8 186.0 L127.7 185.5 L127.6 185.0 L127.5 184.5 L127.5 184.0 L127.5 183.5 L127.5 183.0 L127.5 182.5 L127.5 182.0 L127.5 181.5 L127.5 181.0 L127.6 180.5 L127.6 180.0 L127.6 179.5 L127.6 179.0 L127.6 178.5 L127.6 178.0 Z" fill="#fff3b0"/>
<path d="M127.7 135.5 L127.5 136.0 L127.4 136.5 L127.3 137.0 L127.2 137.5 L127.1 138.0 L127.0 138.5 L126.9 139.0 L126.8 139.5 L126.6 140.0 L126.5 140.5 L126.4 141.0 L126.3 141.5 L126.2 142.0 L126.1 142.5 L126.0 143.0 L125.9 143.5 L125.8 144.0 L125.7 144.5 L125.6 145.0 L125.5 145.5 L125.4 146.0 L125.3 146.5 L125.2 147.0 L125.1 147.5 L125.0 148.0 L125.0 148.5 L124.9 149.0 L124.9 149.5 L124.8 150.0 L124.8 150.5 L124.7 151.0 L124.7 151.5 L124.6 152.0 L124.5 152.5 L124.5 153.0 L124.4 153.5 L124.4 154.0 L124.3 154.5 L124.3 155.0 L124.5 155.5 L124.6 156.0 L124.7 156.5 L124.8 157.0 L125.0 157.5 L125.1 158.0 L125.2 158.5 L125.3 159.0 L125.5 159.5 L125.6 160.0 L125.7 160.5 L125.8 161.0 L126.0 161.5 L126.1 162.0 L126.2 162.5 L126.3 163.0 L126.5 163.5 L126.5 164.0 L126.5 164.5 L126.5 165.0 L126.5 165.5 L126.5 166.0 L126.5 166.5 L126.5 167.0 L127.5 167.0 L127.7 166.5 L127.8 166.0 L128.0 165.5 L128.1 165.0 L128.3 164.5 L128.5 164.0 L128.6 163.5 L128.8 163.0 L128.9 162.5 L129.1 162.0 L129.2 161.5 L129.4 161.0 L129.5 160.5 L129.7 160.0 L129.8 159.5 L130.0 159.0 L130.3 158.5 L130.5 158.0 L130.8 157.5 L131.0 157.0 L131.3 156.5 L131.5 156.0 L131.8 155.5 L132.0 155.0 L132.3 154.5 L132.5 154.0 L132.8 153.5 L133.0 153.0 L133.3 152.5 L133.5 152.0 L133.7 151.5 L133.8 151.0 L133.9 150.5 L134.0 150.0 L134.1 149.5 L134.2 149.0 L134.3 148.5 L134.4 148.0 L134.5 147.5 L134.6 147.0 L134.7 146.5 L134.8 146.0 L134.9 145.5 L135.0 145.0 L135.1 144.5 L135.1 144.0 L135.0 143.5 L135.0 143.0 L134.9 142.5 L134.8 142.0 L134.8 141.5 L134.7 141.0 L134.7 140.5 L134.6 140.0 L134.6 139.5 L134.5 139.0 L134.5 138.5 L134.4 138.0 L134.4 137.5 L134.3 137.0 L134.2 136.5 L134.1 136.0 L134.0 135.5 Z" fill="#a9d7ef"/>
<rect x="127.5" y="134" width="2.5" height="2.2" fill="#fff"/><rect x="132" y="134.3" width="3" height="2.5" fill="#fff"/>
</g>
<line x1="83" x2="138" y1="43.6" y2="43.6" stroke="#222" stroke-width="1" stroke-dasharray="1.2 1.9"/>
<line x1="83.2" x2="83.2" y1="43.6" y2="103" stroke="#222" stroke-width="1" stroke-dasharray="1.2 1.9"/>
<text class="b" x="83.3" y="53.8" font-size="10">10 mm</text>
<rect x="157.8" y="119" width="6.2" height="11.8" fill="#e02a1a"/>
<text class="b" x="158.2" y="129.5" font-size="10">A</text>
<line x1="80" x2="163.8" y1="130.8" y2="130.8" stroke="#111" stroke-width="0.9"/>
<line x1="80" x2="163.8" y1="139.1" y2="139.1" stroke="#111" stroke-width="0.9"/>
<line x1="80" x2="163.8" y1="142.4" y2="142.4" stroke="#111" stroke-width="0.9"/>
<line x1="80" x2="163.8" y1="144.2" y2="144.2" stroke="#111" stroke-width="0.9"/>
<line x1="80" x2="163.8" y1="140.8" y2="140.8" stroke="#e0402a" stroke-width="0.9" stroke-dasharray="2 2"/>
<line x1="80" x2="163.8" y1="143.3" y2="143.3" stroke="#e0402a" stroke-width="0.9" stroke-dasharray="2 2"/>
<rect x="171.4" y="38.6" width="199.6" height="204.1" rx="1.2" fill="#fff" stroke="#8a8a8a" stroke-width="1"/>
<line x1="176.6" x2="315.8" y1="43.5" y2="43.5" stroke="#333" stroke-width="0.9"/>
<text class="b" x="176.8" y="52.7" font-size="8.4">10 mm</text>
<text class="b" x="326" y="52.7" font-size="8.4" letter-spacing="1.45">0.100</text>
<text class="b" x="355.6" y="52.7" font-size="8.4">mm</text>
<text class="b" x="177.8" y="240.9" font-size="8.3">2</text>
<text class="b" x="194" y="240.9" font-size="8.3">ROI_2</text>
<path d="M266 179.5 L270 175.5 L276.5 173 L283 171.5 L290 171 L298 171.6 L304.5 173 L309 175 L312.5 177 L315 182 L315.2 192.5 L319 193 L323 194.5 L326 198 L330 197 L332 215 L318 224 L300 224.2 L279 224.2 L275.3 223.8 L276.2 216.4 L274.5 213.5 L272 203 L268 194 L266.4 186 Z" fill="#a1a5a2"/>
<path d="M193.40 156.05 A80.8 82.65 0 1 0 355.00 156.05 A80.8 82.65 0 1 0 193.40 156.05 Z M209.80 157.35 A65.7 66.45 0 1 0 341.20 157.35 A65.7 66.45 0 1 0 209.80 157.35 Z" fill="#4e5551" fill-rule="evenodd"/>
<path fill="#98a09b" d="M244.3 219.3 L244.3 220.3 L243.7 220.1Z M279.6 232.0 L278.7 232.1 L278.4 231.6 L278.8 231.1 L279.5 231.5Z M326.9 205.2 L328.0 205.3 L327.7 206.2Z M243.3 89.5 L245.3 89.0 L245.5 90.5 L243.4 91.4Z M265.3 85.7 L266.5 85.2 L266.0 86.1Z M202.7 127.2 L204.5 127.9 L203.0 129.8 L202.2 128.7Z M252.4 82.0 L253.9 84.0 L252.5 85.6 L250.8 84.4Z M270.6 85.0 L267.9 84.2 L270.9 81.8Z M350.7 150.8 L348.2 150.5 L350.4 148.8Z M346.2 157.6 L347.4 157.3 L348.1 158.6 L347.5 160.2 L345.9 159.5Z M218.3 202.4 L219.0 202.2 L219.1 203.0 L218.5 203.2Z M332.9 199.9 L332.8 200.7 L332.2 200.1Z M319.1 91.2 L320.0 89.1 L321.7 90.9 L321.5 92.9Z M206.9 145.0 L206.5 144.5 L207.1 144.2 L207.5 144.2 L207.6 145.0Z M217.0 104.8 L217.1 106.1 L216.0 105.7Z M262.7 226.3 L262.8 227.9 L262.1 228.6 L260.9 227.0Z M349.4 149.2 L349.1 149.9 L348.4 150.0 L348.4 149.1Z M205.5 188.0 L205.9 186.9 L206.3 186.8 L207.1 187.6 L206.8 188.0Z M348.4 147.1 L350.5 146.6 L349.5 148.8Z M203.7 189.1 L202.9 187.9 L204.2 187.9Z M334.2 116.5 L336.4 116.2 L337.4 117.7 L336.8 119.1 L334.8 118.9Z M296.1 88.2 L298.1 89.0 L297.0 91.0 L295.5 91.2 L294.0 89.9Z M200.3 153.5 L200.3 152.9 L201.3 152.2 L201.4 153.3Z M198.4 144.0 L198.6 145.3 L197.6 146.1 L196.9 144.9 L197.3 144.1Z M287.9 78.7 L286.9 76.8 L288.5 77.3Z M239.4 96.0 L239.2 94.6 L240.8 93.6 L242.0 95.4 L240.9 96.4Z M343.1 140.5 L341.1 140.9 L342.3 138.9Z M237.7 84.3 L240.0 83.6 L239.3 85.9Z M331.5 113.3 L330.9 113.5 L330.6 113.2 L330.9 112.6 L331.5 112.9Z M347.7 178.1 L347.0 176.7 L348.1 176.7Z M242.5 93.5 L241.6 94.1 L241.4 93.6 L242.1 93.0Z M233.7 95.4 L231.9 94.5 L233.8 93.0 L236.1 93.7 L234.5 95.0Z M221.0 100.8 L218.1 101.5 L219.6 98.3Z M343.0 176.7 L341.6 177.7 L340.7 177.3 L341.8 176.0Z M239.3 215.8 L240.7 215.5 L241.5 216.9 L240.3 217.7 L239.5 216.9Z M349.9 135.2 L349.7 136.3 L348.9 136.2 L348.5 135.6 L349.0 134.7Z M202.8 149.8 L203.4 150.2 L203.1 151.6 L202.0 151.2 L202.2 150.8Z M221.7 94.6 L224.0 94.0 L225.2 95.3 L222.4 96.7Z M201.3 139.3 L202.1 139.3 L202.1 140.3 L200.9 140.2 L200.7 139.7Z M242.8 84.8 L244.7 85.0 L243.9 86.2Z M196.2 164.2 L195.5 163.8 L195.5 162.6 L196.3 162.8 L196.7 163.2Z M256.1 225.3 L257.3 223.7 L259.8 223.5 L260.0 225.7Z M226.6 104.7 L226.7 103.9 L227.6 103.3 L228.0 103.8 L227.6 104.6Z M327.1 205.1 L328.0 207.9 L326.3 207.8 L325.2 206.0Z M214.8 117.2 L215.5 119.4 L213.5 120.1 L213.2 117.3Z M286.7 77.3 L286.2 80.8 L284.6 79.1Z M267.6 82.5 L267.4 83.5 L266.8 83.9 L266.0 83.6 L266.6 82.6Z M281.0 231.7 L278.6 230.4 L280.7 228.9Z M348.0 155.7 L347.2 155.7 L346.8 154.8 L348.1 154.3 L348.3 155.0Z M202.8 145.7 L204.8 144.7 L204.4 147.3Z M338.6 198.9 L341.4 199.1 L340.7 200.8 L337.7 200.8Z M347.3 141.9 L346.9 142.6 L346.0 142.1 L345.9 141.2Z M331.9 206.1 L335.7 204.0 L334.3 207.7Z M323.6 207.1 L325.2 208.6 L325.2 209.9 L323.4 210.0 L323.0 207.5Z M242.7 228.2 L243.4 227.3 L244.0 228.2 L242.8 229.3Z M337.0 192.9 L334.6 192.1 L335.6 189.9 L337.9 191.8Z M296.7 234.7 L294.8 233.1 L296.9 232.9Z M287.3 229.6 L286.7 229.5 L286.6 229.3 L286.9 228.6 L287.7 229.3Z M352.7 156.5 L351.2 155.4 L353.2 154.0Z M241.0 219.2 L240.4 218.1 L241.5 218.2Z M309.4 86.1 L306.8 86.2 L307.3 83.7Z M344.5 172.1 L345.2 169.7 L347.6 170.5Z M228.6 211.1 L229.2 211.7 L228.5 212.6 L228.2 211.7Z M308.1 93.2 L308.8 95.1 L307.2 97.7 L304.7 95.0Z M315.2 215.5 L314.6 214.3 L316.3 214.2 L317.2 215.4Z M238.4 228.2 L237.6 227.3 L238.8 227.5Z M209.0 194.0 L210.2 193.7 L210.7 194.1 L210.7 195.0 L209.7 195.2Z M282.3 228.6 L281.1 229.4 L280.6 228.4 L281.5 227.9Z M328.5 109.2 L327.1 111.7 L324.7 108.3 L327.5 106.7Z M207.9 179.0 L208.6 179.2 L208.2 180.2Z M348.7 174.1 L348.7 175.5 L347.5 175.3Z M202.1 163.9 L202.6 162.6 L204.4 163.9 L204.6 165.9 L202.4 165.9Z M230.0 215.2 L229.0 215.7 L228.5 213.4 L230.2 212.6 L230.8 214.2Z M347.0 162.3 L349.3 162.6 L348.7 164.8Z M341.1 187.9 L340.1 187.2 L340.2 185.9 L341.5 186.3Z M305.4 94.6 L305.8 94.0 L306.7 93.3 L307.2 94.2 L307.0 95.2Z M329.8 115.1 L330.2 115.9 L329.7 116.2 L329.1 115.9 L329.3 115.3Z M212.3 185.4 L211.1 183.3 L212.4 181.8 L214.2 182.4Z M335.2 196.7 L336.3 197.0 L335.8 197.6Z M218.8 211.4 L218.0 212.5 L217.3 211.5Z M349.9 134.4 L350.5 134.7 L350.2 135.7 L349.0 135.6 L348.8 134.6Z M335.6 122.8 L336.0 122.0 L337.6 122.5 L336.8 123.5 L335.9 123.4Z M199.8 141.3 L201.3 140.2 L202.4 142.5 L200.7 142.8Z M348.8 151.1 L349.6 152.4 L348.4 153.1 L347.1 151.8Z M211.1 116.9 L210.5 118.4 L208.9 118.2 L209.3 116.9 L210.6 116.5Z M346.2 158.7 L346.1 157.8 L346.7 157.3 L347.4 157.5 L346.9 158.4Z M336.9 199.2 L337.6 200.6 L335.9 200.8 L335.4 199.2Z M206.3 160.2 L205.4 160.8 L205.6 159.6Z M234.9 97.6 L237.5 96.5 L237.0 99.0Z M217.1 98.6 L219.2 97.6 L220.3 98.5 L219.4 100.4 L218.0 99.9Z M336.2 106.5 L334.8 107.4 L334.1 105.8 L334.6 104.5 L335.4 104.8Z M311.9 224.7 L312.8 226.2 L311.0 226.2Z M249.9 83.0 L250.2 85.9 L247.3 86.2 L246.3 84.2Z M344.3 193.5 L343.0 194.2 L342.9 193.3Z M249.1 85.7 L248.6 86.2 L247.6 85.5 L248.0 84.5 L248.8 84.8Z M277.3 227.9 L276.7 228.5 L276.3 227.5Z M325.8 214.8 L325.3 214.1 L326.6 213.5 L327.3 214.6Z M197.6 154.6 L197.2 154.9 L196.6 154.3 L197.5 154.0Z M258.4 228.0 L259.1 228.6 L257.9 229.2 L257.3 228.5Z M310.2 94.1 L310.8 94.7 L309.3 95.2 L309.2 94.0Z M332.3 201.0 L331.8 201.8 L330.9 201.4 L331.1 200.4Z M312.6 227.9 L311.4 227.4 L311.2 226.3 L312.7 226.6Z M207.0 131.6 L209.7 131.8 L208.3 134.8 L205.9 134.1Z M309.2 88.5 L310.3 89.4 L308.6 90.0Z M343.7 155.1 L344.5 154.1 L345.3 154.8Z M331.8 201.4 L329.3 202.6 L328.4 200.6 L329.7 199.4Z M210.6 199.2 L211.7 198.3 L213.7 200.4 L212.5 202.1 L210.4 201.2Z M207.0 178.3 L206.0 177.8 L206.9 177.1 L207.6 177.7Z M232.1 90.3 L232.7 88.1 L234.9 89.3Z M342.6 129.8 L342.5 128.9 L343.6 128.9 L343.8 129.8 L343.0 129.9Z M197.7 149.6 L196.9 150.5 L195.1 149.8 L195.8 148.6 L197.2 148.0Z M342.1 129.7 L342.6 128.1 L344.1 128.6 L343.3 130.3Z M322.0 217.7 L320.0 219.0 L319.0 217.2 L320.5 215.6Z M350.5 146.9 L350.4 149.7 L347.5 148.7Z M341.6 196.0 L341.9 197.7 L341.0 197.9 L341.0 196.6Z M351.6 161.1 L353.1 161.0 L353.2 162.7 L352.0 163.0Z M217.1 107.3 L217.1 108.0 L216.4 108.2 L215.6 107.5 L216.1 107.3Z M204.9 193.8 L208.0 193.3 L209.3 194.8 L206.5 195.9Z M241.7 227.8 L240.2 225.2 L241.3 224.6 L243.3 225.4 L244.4 226.5Z M350.8 155.8 L350.9 155.4 L351.6 155.5 L351.8 156.3 L351.0 156.6Z M335.7 120.3 L334.1 119.4 L335.2 117.6 L336.4 119.6Z M296.0 228.5 L295.4 228.0 L295.9 227.3 L296.6 227.8Z M211.1 124.3 L210.1 124.2 L210.4 123.2Z M226.7 206.6 L225.6 207.1 L226.0 205.7Z M337.7 203.0 L337.9 204.0 L337.3 203.8 L337.0 203.2Z M203.6 117.8 L205.2 116.5 L206.8 118.0 L206.9 120.3 L204.1 120.1Z M317.0 220.6 L317.8 220.7 L317.1 221.4Z M341.5 142.8 L342.5 141.7 L342.5 143.1Z M273.3 78.7 L274.2 79.3 L273.6 80.6 L273.2 80.1 L272.3 79.6Z M244.8 88.4 L244.4 85.5 L246.3 84.4 L247.1 87.4Z M314.5 225.3 L314.0 226.6 L313.2 225.9 L313.7 225.1Z M260.3 230.5 L262.1 231.0 L261.2 232.2 L260.4 232.4 L259.8 230.9Z M203.0 181.3 L201.3 179.2 L202.7 178.8 L204.4 180.4Z M320.0 219.9 L322.1 218.1 L324.2 221.4 L321.8 221.7Z M215.0 202.5 L215.8 202.7 L215.1 204.4 L213.8 204.7 L213.8 202.9Z M201.9 168.6 L200.3 167.6 L201.8 166.9Z M316.7 211.2 L317.2 213.3 L315.1 214.2 L314.7 211.7Z M294.0 231.7 L296.4 229.7 L298.7 232.3 L296.5 233.8 L295.7 233.6Z M303.7 219.7 L304.8 219.8 L304.4 220.6Z M220.1 199.6 L219.6 198.6 L220.3 198.2 L220.7 199.2Z M263.1 88.0 L261.9 88.4 L261.2 87.2 L263.1 86.8Z M332.0 199.3 L332.7 199.9 L332.1 200.2Z M327.1 209.8 L326.0 209.4 L326.6 208.5 L327.4 209.2Z M346.1 124.5 L345.7 124.9 L344.7 124.4 L345.1 124.0Z M227.4 210.5 L227.9 211.2 L227.2 211.2Z M264.6 235.6 L263.5 233.9 L265.6 233.8Z M294.2 80.8 L291.7 79.9 L291.4 77.9 L293.8 77.3Z M316.1 222.7 L314.7 224.1 L313.7 222.7Z M207.7 144.1 L206.9 146.4 L205.1 144.1Z M297.8 222.1 L298.4 222.1 L298.1 223.1 L297.6 223.1 L297.1 222.4Z M316.2 90.9 L315.5 89.5 L317.1 88.5 L317.7 89.6Z M201.5 124.4 L202.4 125.2 L201.3 125.3Z M232.6 211.7 L232.3 213.1 L231.0 214.1 L230.1 213.8 L230.7 212.2Z M337.6 197.7 L337.2 196.2 L338.7 196.8Z M313.9 93.2 L312.6 92.5 L312.3 90.3 L315.1 89.7 L315.1 91.4Z M330.6 107.8 L328.8 107.3 L330.5 106.2Z M207.2 193.8 L207.0 194.8 L206.1 194.1 L206.7 193.3Z M243.3 222.7 L243.9 222.5 L244.5 223.1 L243.9 223.4Z M208.1 187.8 L207.3 187.1 L208.3 186.6Z M325.3 110.5 L326.2 110.8 L326.8 111.4 L326.4 112.2 L325.4 112.2Z M308.5 217.2 L309.3 216.3 L310.1 217.7Z M257.7 225.9 L258.4 225.5 L259.0 225.8 L258.8 226.9 L257.9 226.8Z M248.0 223.3 L249.2 222.4 L249.1 224.0Z M205.9 131.5 L205.0 130.1 L207.0 130.6Z M219.4 205.4 L219.2 205.0 L219.0 204.1 L220.1 203.8 L220.3 204.9Z M270.2 76.8 L271.7 78.9 L269.7 81.4 L267.4 78.6Z M347.9 138.2 L348.0 140.2 L345.7 139.9 L345.5 138.1Z M220.4 205.8 L220.6 203.3 L223.0 204.5 L221.8 206.6Z M318.9 91.1 L317.3 91.9 L316.8 89.8Z M206.7 139.3 L206.8 140.6 L205.8 142.0 L205.1 141.3 L204.5 139.7Z M200.5 155.9 L199.3 157.1 L199.1 155.6Z M304.4 92.6 L303.8 94.0 L301.5 92.5 L303.5 90.9Z M214.2 191.6 L213.6 191.5 L213.2 190.2 L214.9 189.4 L215.0 190.7Z M350.1 158.1 L349.9 157.6 L350.8 157.6 L350.5 158.5Z M205.4 150.4 L206.7 150.2 L207.5 151.1 L205.8 151.5Z M205.0 188.8 L205.4 189.3 L205.3 189.7 L204.5 189.7 L204.5 189.3Z M223.7 201.6 L225.1 202.1 L225.2 203.8 L223.6 203.5 L222.8 201.6Z M214.0 194.2 L212.2 191.6 L215.6 191.5Z M293.3 89.1 L293.3 87.4 L294.6 88.0Z M219.9 205.2 L220.6 204.4 L221.3 205.4Z M262.6 224.2 L263.5 225.0 L262.3 225.5Z M298.2 89.2 L300.4 91.0 L297.9 91.5Z M210.1 177.0 L210.3 178.1 L209.1 179.0 L208.1 177.9 L209.0 176.7Z M285.6 84.6 L284.6 85.0 L283.7 84.5 L284.5 83.3Z M300.1 82.6 L301.2 83.8 L299.7 84.2Z M202.4 174.3 L200.9 173.7 L201.2 172.8 L202.8 172.9Z M211.2 203.6 L210.6 202.4 L212.0 202.6Z M205.5 188.3 L206.3 189.5 L205.7 190.0 L204.5 189.3Z M239.4 90.1 L239.7 90.9 L238.8 90.4Z M277.7 225.1 L278.9 227.7 L276.2 226.7Z M287.1 230.9 L287.9 228.7 L289.5 230.0 L288.5 231.3Z M238.4 85.7 L239.3 86.8 L238.5 87.6 L237.8 86.4Z M274.6 227.0 L274.3 225.3 L276.4 225.8 L276.3 227.2Z M200.2 184.1 L199.7 183.3 L200.7 182.0 L201.7 182.9 L201.8 184.3Z M199.9 174.5 L201.8 175.0 L200.2 175.8Z M245.3 231.2 L245.8 230.6 L247.0 230.7 L246.3 231.9Z M237.0 222.9 L238.3 224.0 L237.1 224.7Z M258.3 231.3 L256.6 230.8 L257.4 230.0 L259.0 229.5 L258.7 231.1Z M291.3 80.7 L290.0 80.3 L290.4 78.2 L291.8 79.1Z M208.0 125.0 L206.6 126.9 L205.7 124.8Z M249.9 91.3 L249.6 93.2 L247.9 92.6 L247.0 90.3 L249.4 90.2Z M261.3 231.4 L258.9 233.3 L258.1 231.1 L260.2 230.0Z M206.8 126.0 L208.0 124.5 L209.7 125.5 L209.1 126.7 L208.2 127.6Z M251.9 227.7 L254.4 228.0 L253.5 229.7 L251.9 229.4Z M318.1 216.5 L319.4 215.6 L321.0 217.6 L319.8 218.9Z M272.9 226.7 L273.5 225.9 L274.7 225.9 L274.8 226.9 L273.8 227.7Z M323.6 99.8 L323.2 100.4 L322.5 100.6 L322.4 99.3 L323.1 98.9Z M341.8 182.4 L340.1 183.5 L340.0 180.7Z M218.8 101.0 L219.2 102.0 L218.1 102.6 L217.8 102.0 L218.1 100.8Z M262.6 90.5 L262.2 88.1 L264.4 89.2Z M252.3 91.5 L253.1 93.5 L249.5 92.5Z M238.1 87.7 L237.5 88.2 L236.1 87.8 L236.6 87.1 L237.6 86.9Z M221.8 104.1 L221.1 106.1 L218.8 104.4 L220.0 102.8Z M326.0 211.7 L326.3 213.4 L324.7 212.5Z M206.2 163.7 L205.8 164.9 L205.0 164.9 L205.1 163.6Z M209.3 123.2 L208.1 123.9 L207.5 123.2 L207.8 122.5 L209.0 122.2Z M344.4 126.4 L345.6 127.4 L344.6 128.4 L343.5 127.8Z M348.4 150.6 L349.0 152.3 L346.5 151.3Z M214.6 203.9 L213.7 204.6 L213.2 203.7 L213.8 202.9 L214.2 203.2Z M204.5 117.3 L204.2 116.0 L205.7 116.2 L206.3 117.0 L205.9 118.6Z M289.1 229.3 L288.6 228.9 L288.8 228.2 L289.8 227.6 L290.1 229.3Z M345.6 159.7 L345.3 159.0 L345.5 158.6 L346.1 159.1 L346.0 159.8Z M336.0 196.8 L336.8 195.7 L339.1 194.6 L340.6 196.0 L338.4 197.6Z M344.8 164.6 L345.3 165.6 L344.2 165.9 L343.8 165.0Z M270.5 234.2 L270.5 233.5 L270.7 232.8 L271.1 233.3 L271.4 233.9Z M285.6 84.2 L286.4 84.7 L285.8 85.8 L284.6 85.1Z M229.9 209.0 L230.1 209.8 L229.2 210.6 L228.3 210.1 L229.0 208.8Z M292.1 231.9 L293.2 232.5 L292.5 232.7Z M217.9 211.5 L219.4 210.7 L220.2 212.1 L218.9 214.0 L217.2 213.5Z M290.8 230.0 L290.8 231.2 L289.8 231.0 L289.4 229.7Z M313.4 220.7 L316.1 221.4 L313.9 224.2Z M307.9 228.1 L307.2 229.6 L305.5 229.2 L305.7 228.0 L306.9 227.7Z M233.9 223.1 L232.6 225.5 L231.4 224.5 L232.3 222.3Z M329.5 198.1 L329.5 200.2 L327.4 199.2Z M319.5 219.3 L319.5 218.4 L320.4 217.7 L320.7 218.5 L320.5 218.9Z M337.3 185.7 L337.4 186.1 L336.9 186.5 L336.5 186.0Z M349.7 153.7 L349.7 152.3 L352.0 153.0 L350.8 154.4Z M279.1 230.6 L280.0 230.3 L281.1 231.5 L279.8 231.8 L279.0 231.5Z M231.3 96.1 L229.9 98.2 L228.3 97.1 L229.5 95.6Z M272.7 83.6 L271.9 84.3 L271.1 83.8 L272.1 83.0Z M267.1 233.9 L268.4 233.4 L269.5 234.7 L269.3 235.8 L267.8 235.4Z M238.0 97.3 L238.2 96.8 L238.8 96.7 L239.1 97.4Z M202.0 147.1 L202.4 146.3 L203.6 146.5 L203.5 147.3Z M225.1 212.9 L224.8 212.1 L225.7 211.6 L226.6 211.7 L226.1 212.8Z M278.2 234.4 L278.9 234.2 L279.1 235.1 L278.8 235.5 L277.7 235.3Z M254.5 228.1 L253.2 227.2 L254.9 226.1 L255.5 226.9Z M317.1 105.4 L317.7 101.7 L320.1 102.0 L319.6 105.8Z M201.0 188.0 L202.1 186.9 L202.2 188.3Z M347.4 174.9 L349.1 175.5 L347.7 176.8 L346.3 175.5Z M346.6 181.4 L346.1 183.3 L345.0 183.2 L344.8 181.7Z M303.3 231.8 L302.3 231.5 L302.9 230.4 L303.6 230.7 L304.2 231.4Z M300.0 82.5 L298.3 82.0 L298.9 80.4 L300.6 81.0Z M298.2 232.6 L298.0 232.1 L298.2 231.5 L298.9 231.7 L298.8 232.6Z M200.1 177.1 L199.5 180.0 L198.2 178.0Z M217.9 117.8 L217.1 116.8 L217.5 116.0 L218.7 116.8Z M206.4 172.4 L207.2 171.4 L207.4 172.3Z M253.4 90.0 L254.7 92.7 L252.7 93.8 L251.1 92.1Z M346.2 130.6 L345.8 131.9 L344.7 130.9 L345.2 130.2Z M239.3 221.0 L238.4 220.6 L238.5 220.1 L239.4 220.0Z M338.7 126.0 L338.6 128.0 L336.0 129.6 L336.4 126.1Z M335.1 126.2 L335.3 125.3 L336.3 125.8Z M271.6 85.2 L272.7 86.5 L271.3 87.0Z M345.9 173.4 L347.7 173.7 L347.7 176.2 L346.2 176.2 L345.0 175.9Z M312.6 95.6 L310.9 95.8 L311.9 94.3Z M214.5 127.9 L213.4 129.9 L212.3 128.6 L213.1 127.8Z M328.7 199.0 L330.2 199.6 L329.6 200.5 L328.7 200.7 L327.8 199.8Z M289.7 227.0 L288.8 227.4 L289.2 226.4Z M339.8 196.3 L339.6 195.1 L341.2 195.3Z M313.1 224.9 L311.8 223.7 L313.3 223.8Z M197.5 157.3 L198.8 157.1 L199.0 157.7 L198.2 158.3 L197.3 157.8Z M273.6 85.7 L274.2 87.6 L272.0 87.4Z M324.5 104.6 L323.6 105.1 L323.3 104.2Z M280.6 230.4 L281.5 230.7 L281.4 231.5 L280.5 231.3Z M295.2 82.6 L294.7 84.5 L292.5 82.7 L294.2 81.2Z M293.8 227.9 L292.1 230.0 L289.5 228.6 L290.0 226.8 L292.2 226.3Z M331.5 114.0 L331.8 110.9 L333.5 112.6Z M344.8 137.3 L345.0 135.5 L346.3 136.7Z M270.1 79.8 L268.8 81.8 L266.5 79.0Z M226.2 213.2 L228.0 215.0 L227.4 216.6 L225.1 215.2 L225.0 214.2Z M207.3 151.1 L205.3 152.9 L203.9 150.4Z M195.0 151.4 L195.5 151.2 L196.2 151.8 L195.7 152.7 L194.7 152.4Z M196.9 158.7 L196.4 160.3 L195.2 161.3 L194.2 160.1 L195.1 158.9Z M199.8 147.4 L199.6 146.5 L199.6 146.0 L200.3 146.3 L200.3 146.9Z M270.6 232.0 L268.3 229.8 L270.7 228.0 L271.5 229.8Z M278.0 84.7 L277.1 81.7 L279.4 82.3Z M283.1 88.1 L285.6 88.0 L285.5 89.2 L283.3 89.7Z M256.1 79.6 L255.5 79.4 L255.1 78.1 L256.1 78.1 L256.5 78.6Z M324.5 97.6 L325.2 98.3 L325.3 99.5 L324.6 99.1 L324.1 98.4Z M211.8 185.5 L212.7 186.3 L211.9 187.5 L210.1 186.7 L210.5 185.3Z M326.8 107.8 L326.4 109.7 L324.4 110.7 L323.7 109.0 L324.5 106.7Z M335.2 189.3 L335.2 190.2 L334.5 189.8Z M204.6 181.7 L205.6 181.2 L205.1 182.4Z M284.6 230.6 L285.1 231.5 L283.7 232.3 L283.4 231.0Z M222.1 100.3 L222.2 99.3 L223.1 99.6 L223.2 100.7Z M273.0 233.0 L273.7 232.2 L274.5 232.5 L274.2 233.4Z M269.4 80.1 L270.3 83.4 L266.8 82.2Z M290.2 90.8 L290.4 89.6 L291.2 90.4Z M223.3 103.5 L221.7 102.1 L224.0 101.5 L224.2 102.5Z M320.2 221.2 L318.2 223.0 L316.7 221.1 L318.0 218.7Z M293.0 225.4 L293.5 226.3 L292.5 226.6Z M312.8 98.8 L312.0 98.3 L313.2 98.0Z M348.9 178.2 L348.7 177.0 L349.4 177.1 L350.2 178.0Z M336.8 202.3 L337.7 201.2 L338.7 201.4 L338.3 202.9Z M213.3 200.7 L214.2 200.3 L214.4 201.8 L214.0 202.8 L213.0 202.0Z M293.1 80.6 L292.5 80.4 L292.7 79.3Z M290.5 232.2 L287.8 233.4 L288.0 231.2 L288.9 230.2Z M223.6 108.8 L220.9 110.0 L221.9 106.8Z M200.5 139.6 L199.9 137.8 L202.1 138.1 L202.1 139.2Z M294.8 227.7 L294.8 228.4 L293.4 228.2 L293.6 227.7 L294.2 226.9Z M320.2 217.1 L318.4 218.4 L318.8 216.2Z M212.3 197.7 L213.4 197.6 L212.8 198.9 L211.5 199.0 L211.4 198.3Z M256.4 225.4 L256.7 225.9 L256.2 226.9 L255.4 225.6Z M220.0 100.9 L221.4 102.5 L219.7 103.8 L218.6 102.3Z M280.8 229.8 L279.7 229.8 L279.5 229.3 L280.1 228.7 L280.7 228.8Z M277.3 236.8 L276.6 236.4 L276.3 235.2 L277.0 235.3 L277.7 236.1Z M273.1 79.8 L271.9 79.0 L273.1 77.8 L273.8 78.9Z M213.7 112.2 L212.4 112.7 L212.5 111.1Z M349.4 142.6 L347.6 142.5 L348.1 140.7 L349.7 140.9Z M232.5 221.5 L232.7 222.6 L232.2 222.5 L231.6 222.0Z M316.0 221.7 L315.0 220.6 L315.2 220.1 L316.2 220.1 L316.6 220.8Z M344.2 122.6 L345.9 121.5 L346.8 122.6 L344.5 124.0Z M312.8 222.9 L313.5 223.7 L312.8 223.9Z M344.5 161.8 L342.4 161.0 L343.9 159.3 L345.3 159.8Z M309.0 220.9 L305.0 221.0 L307.8 218.9Z M288.7 233.2 L286.4 233.8 L287.4 231.8Z M203.7 169.1 L202.4 168.8 L201.5 166.7 L202.8 165.4 L204.3 166.1Z M220.5 100.1 L220.7 99.7 L221.6 99.7 L221.8 100.2 L220.8 100.7Z M319.8 100.9 L319.3 100.3 L319.1 99.6 L319.9 99.3 L320.6 100.2Z M341.6 130.0 L341.5 128.7 L342.8 129.9Z M292.7 234.5 L291.6 234.3 L292.4 232.8 L293.7 233.2Z"/>
<path d="M277.5 222 L279 224.2 L298 224.2 L303 221 L306 217 L310 214.6 L275 214.6 Z" fill="#a1a5a2"/>
<path d="M257.6 224.1 L257.6 165.9 L323.4 165.9 L323.4 224.1" fill="none" stroke="#555" stroke-width="0.9" stroke-dasharray="7 4"/>
<line x1="257.6" x2="324.5" y1="224.1" y2="224.1" stroke="#222" stroke-width="0.9"/>
<path d="M290.8 185.4 C288 182 285.5 180 283 179.3 C280 178.3 277.5 178.2 275.8 178.9 C273 180 272 182.5 271.7 185 C271.2 188 271.1 191 271.3 193.9 C271.6 197 272.2 199.5 273.2 201.7 C274.6 204.3 276.5 206 279.1 207.6 C281.5 209.3 283.8 210.8 286.3 212.1 C288.5 213.1 290.5 213.5 292.8 213.4 C295.2 213.2 297.2 212.5 299.3 211.5 C302 210 304.5 208 306.5 205.6 C308.5 203.2 310 200.8 311 197.8 C311.9 195.2 312.4 192.7 312.3 190 C312.3 187.5 312 185.3 311 183.5 C309.8 181.6 308 180.7 305.8 180.2 C303.2 179.5 300.5 179.2 298 179.5 C296 180 294.6 181.3 293.4 182.8 C292.4 183.8 291.6 184.6 290.8 185.4 Z" fill="#ffffff" stroke="#e02a1a" stroke-width="2.1" stroke-linejoin="round"/>
<path d="M290.8 185.4 C288 182 285.5 180 283 179.3 C280 178.3 277.5 178.2 275.8 178.9 C273 180 272 182.5 271.7 185 C271.2 188 271.1 191 271.3 193.9 C271.6 197 272.2 199.5 273.2 201.7 C274.6 204.3 276.5 206 279.1 207.6 C281.5 209.3 283.8 210.8 286.3 212.1 C288.5 213.1 290.5 213.5 292.8 213.4 C295.2 213.2 297.2 212.5 299.3 211.5 C302 210 304.5 208 306.5 205.6 C308.5 203.2 310 200.8 311 197.8 C311.9 195.2 312.4 192.7 312.3 190 C312.3 187.5 312 185.3 311 183.5 C309.8 181.6 308 180.7 305.8 180.2 C303.2 179.5 300.5 179.2 298 179.5 C296 180 294.6 181.3 293.4 182.8 C292.4 183.8 291.6 184.6 290.8 185.4 Z" fill="#ffffff" stroke="#f7a23e" stroke-width="1.1" stroke-linejoin="round" transform="translate(291.7,196) scale(0.935) translate(-291.7,-196)"/>
<path d="M290.8 185.4 C288 182 285.5 180 283 179.3 C280 178.3 277.5 178.2 275.8 178.9 C273 180 272 182.5 271.7 185 C271.2 188 271.1 191 271.3 193.9 C271.6 197 272.2 199.5 273.2 201.7 C274.6 204.3 276.5 206 279.1 207.6 C281.5 209.3 283.8 210.8 286.3 212.1 C288.5 213.1 290.5 213.5 292.8 213.4 C295.2 213.2 297.2 212.5 299.3 211.5 C302 210 304.5 208 306.5 205.6 C308.5 203.2 310 200.8 311 197.8 C311.9 195.2 312.4 192.7 312.3 190 C312.3 187.5 312 185.3 311 183.5 C309.8 181.6 308 180.7 305.8 180.2 C303.2 179.5 300.5 179.2 298 179.5 C296 180 294.6 181.3 293.4 182.8 C292.4 183.8 291.6 184.6 290.8 185.4 Z" fill="#ffffff" stroke="#fde58a" stroke-width="0.9" stroke-linejoin="round" transform="translate(291.7,196) scale(0.89) translate(-291.7,-196)"/>
<g fill="#a9d7ef"><rect x="283.9" y="189.3" width="1.2" height="2.8"/><rect x="282" y="196.5" width="3.2" height="1.6"/><rect x="283" y="198.8" width="2.6" height="1.6"/><rect x="285" y="201.7" width="3.4" height="1.5"/><rect x="288" y="203.2" width="4" height="1.4"/><rect x="292.5" y="202.2" width="3.6" height="1.5"/><rect x="296" y="201" width="2" height="1.4"/><rect x="293.6" y="192" width="1.8" height="4.4"/><rect x="295.4" y="195" width="1.4" height="3"/><rect x="299.2" y="201.2" width="2.6" height="1.7"/><rect x="301.4" y="199.8" width="2.8" height="1.7"/><rect x="303.8" y="198.4" width="2.6" height="1.6"/><rect x="306" y="197" width="2.4" height="1.5"/><rect x="308" y="195.6" width="1.8" height="1.4"/><rect x="286" y="193.2" width="1.3" height="1.3"/><rect x="290.5" y="190.6" width="3.2" height="1.3"/><rect x="287.5" y="191.8" width="1.6" height="1.2"/></g>
<path d="M285.6 199.5 L287.5 196 L290.5 193 L293 191.8 L296 192 L297 194 L296.2 197.5 L294.5 200.5 L292.5 203 L290 204 L287 203.2 Z" fill="#fbc552"/>
<path d="M287 199.6 L289 196.6 L291.5 194.6 L294 194 L294.3 195.6 L293.4 198.6 L291.8 201.6 L289.8 203 L287.8 202.2 Z" fill="#e02a1a"/>
<rect x="289.6" y="197.6" width="1.8" height="1.8" fill="#fff"/>
<path d="M309.3 206.6 L311.5 207.2 L313 210 L310.8 210.3 Z" fill="#e02a1a"/>
<rect x="269.6" y="190.5" width="1.4" height="5" fill="#e02a1a"/>
<rect x="270.6" y="175.6" width="44.1" height="38.9" fill="none" stroke="#b6e6a2" stroke-width="1"/>
<line x1="444" x2="444" y1="14.7" y2="149.2" stroke="#222" stroke-width="1.3"/>
<line x1="443.4" x2="685" y1="148.60000000000002" y2="148.60000000000002" stroke="#222" stroke-width="1.3"/>
<line x1="441" x2="444" y1="148.6" y2="148.6" stroke="#222" stroke-width="1.1"/>
<text class="b" font-size="11.3" text-anchor="end" transform="translate(439.6,154.2) scale(1.06,1)">0</text>
<line x1="441" x2="444" y1="121.9" y2="121.9" stroke="#222" stroke-width="1.1"/>
<text class="b" font-size="11.3" text-anchor="end" transform="translate(439.6,127.6) scale(1.06,1)">200</text>
<line x1="441" x2="444" y1="95.3" y2="95.3" stroke="#222" stroke-width="1.1"/>
<text class="b" font-size="11.3" text-anchor="end" transform="translate(439.6,100.9) scale(1.06,1)">400</text>
<line x1="441" x2="444" y1="68.6" y2="68.6" stroke="#222" stroke-width="1.1"/>
<text class="b" font-size="11.3" text-anchor="end" transform="translate(439.6,74.3) scale(1.06,1)">600</text>
<line x1="441" x2="444" y1="42.0" y2="42.0" stroke="#222" stroke-width="1.1"/>
<text class="b" font-size="11.3" text-anchor="end" transform="translate(439.6,47.6) scale(1.06,1)">800</text>
<line x1="441" x2="444" y1="15.3" y2="15.3" stroke="#222" stroke-width="1.1"/>
<text class="b" font-size="11.3" text-anchor="end" transform="translate(439.6,20.9) scale(1.06,1)">1000</text>
<text class="b" font-size="14.1" text-anchor="middle" transform="translate(406.8,87.8) rotate(-90) scale(1,1)">Total BMD (mg/ccm)</text>
<line x1="456.9" x2="456.9" y1="71.0" y2="74.5" stroke="#222" stroke-width="1.1"/>
<line x1="453.7" x2="460.1" y1="71.0" y2="71.0" stroke="#222" stroke-width="1.1"/>
<rect x="451.3" y="74.5" width="11.2" height="74.1" fill="#fff" stroke="#222" stroke-width="1.1"/>
<text class="b" font-size="14" text-anchor="end" transform="translate(459.6,154) rotate(-90)">Vehicle</text>
<line x1="483.41999999999996" x2="483.41999999999996" y1="55.8" y2="59.3" stroke="#222" stroke-width="1.1"/>
<line x1="480.2" x2="486.6" y1="55.8" y2="55.8" stroke="#222" stroke-width="1.1"/>
<rect x="477.8" y="59.3" width="11.2" height="89.3" fill="#fff" stroke="#222" stroke-width="1.1"/>
<text font-size="16" text-anchor="middle" stroke="#000" stroke-width="0.25" transform="translate(483.4,58.5) scale(0.9,1)">*</text>
<text class="b" font-size="14" text-anchor="end" transform="translate(486.1,154) rotate(-90)">Low dose</text>
<line x1="509.94" x2="509.94" y1="49.9" y2="52.3" stroke="#222" stroke-width="1.1"/>
<line x1="506.7" x2="513.1" y1="49.9" y2="49.9" stroke="#222" stroke-width="1.1"/>
<rect x="504.3" y="52.3" width="11.2" height="96.3" fill="#fff" stroke="#222" stroke-width="1.1"/>
<text font-size="16" text-anchor="middle" stroke="#000" stroke-width="0.25" transform="translate(510.4,51.5) scale(0.9,1)">*</text>
<text class="b" font-size="14" text-anchor="end" transform="translate(512.6,154) rotate(-90)">High dose</text>
<line x1="562.98" x2="562.98" y1="81.4" y2="83.4" stroke="#222" stroke-width="1.1"/>
<line x1="559.8" x2="566.2" y1="81.4" y2="81.4" stroke="#222" stroke-width="1.1"/>
<rect x="557.1" y="83.4" width="11.8" height="65.2" fill="#000"/>
<text class="b" font-size="14" text-anchor="end" transform="translate(566.2,155.5) rotate(-90)">Basal</text>
<line x1="589.5" x2="589.5" y1="61.6" y2="63.9" stroke="#222" stroke-width="1.1"/>
<line x1="586.3" x2="592.7" y1="61.6" y2="61.6" stroke="#222" stroke-width="1.1"/>
<rect x="583.6" y="63.9" width="11.8" height="84.7" fill="#000"/>
<text font-size="10" stroke="#000" stroke-width="0.2" transform="translate(587.6,58.6) scale(0.95,1)">#</text>
<text class="b" font-size="14" text-anchor="end" transform="translate(592.7,155.5) rotate(-90)">Vehicle</text>
<line x1="616.02" x2="616.02" y1="46.3" y2="51.1" stroke="#222" stroke-width="1.1"/>
<line x1="612.8" x2="619.2" y1="46.3" y2="46.3" stroke="#222" stroke-width="1.1"/>
<rect x="610.1" y="51.1" width="11.8" height="97.5" fill="#000"/>
<text font-size="16" text-anchor="middle" stroke="#000" stroke-width="0.25" transform="translate(613.9,49.8) scale(0.9,1)">*</text>
<text font-size="10" stroke="#000" stroke-width="0.2" transform="translate(616.4,43.6) scale(0.95,1)">#</text>
<text class="b" font-size="14" text-anchor="end" transform="translate(619.2,155.5) rotate(-90)">CatK I</text>
<line x1="642.54" x2="642.54" y1="48.2" y2="51.2" stroke="#222" stroke-width="1.1"/>
<line x1="639.3" x2="645.7" y1="48.2" y2="48.2" stroke="#222" stroke-width="1.1"/>
<rect x="636.6" y="51.2" width="11.8" height="97.4" fill="#000"/>
<text font-size="16" text-anchor="middle" stroke="#000" stroke-width="0.25" transform="translate(640.2,50.1) scale(0.9,1)">*</text>
<text font-size="10" stroke="#000" stroke-width="0.2" transform="translate(642.4,43.6) scale(0.95,1)">#</text>
<text class="b" font-size="14" text-anchor="end" transform="translate(645.7,155.5) rotate(-90)">ZA</text>
<line x1="669.06" x2="669.06" y1="38.3" y2="42.9" stroke="#222" stroke-width="1.1"/>
<line x1="665.9" x2="672.3" y1="38.3" y2="38.3" stroke="#222" stroke-width="1.1"/>
<rect x="663.2" y="42.9" width="11.8" height="105.7" fill="#000"/>
<text font-size="16" text-anchor="middle" stroke="#000" stroke-width="0.25" transform="translate(666.6,40.5) scale(0.9,1)">*</text>
<text font-size="10" stroke="#000" stroke-width="0.2" transform="translate(669,34.6) scale(0.95,1)">#</text>
<text class="b" font-size="14" text-anchor="end" transform="translate(672.3,155.5) rotate(-90)">CatK I + ZA</text>
<line x1="448.9" x2="511.5" y1="231.7" y2="231.7" stroke="#222" stroke-width="1"/>
<text class="b" font-size="13.9" text-anchor="middle" x="482.6" y="247">Protocol I</text>
<line x1="565.9" x2="670.9" y1="230.6" y2="230.6" stroke="#222" stroke-width="1"/>
<text class="b" font-size="13.9" text-anchor="middle" x="620.3" y="245.4">Protocol II</text>
<line x1="445.5" x2="445.5" y1="297.3" y2="439.3" stroke="#222" stroke-width="1.3"/>
<line x1="444.9" x2="685" y1="438.7" y2="438.7" stroke="#222" stroke-width="1.3"/>
<line x1="442.5" x2="445.5" y1="438.7" y2="438.7" stroke="#222" stroke-width="1.1"/>
<text class="b" font-size="13" text-anchor="end" transform="translate(440.9,444.8) scale(1.02,1)">0</text>
<line x1="442.5" x2="445.5" y1="403.5" y2="403.5" stroke="#222" stroke-width="1.1"/>
<text class="b" font-size="13" text-anchor="end" transform="translate(440.9,409.6) scale(1.02,1)">200</text>
<line x1="442.5" x2="445.5" y1="368.3" y2="368.3" stroke="#222" stroke-width="1.1"/>
<text class="b" font-size="13" text-anchor="end" transform="translate(440.9,374.4) scale(1.02,1)">400</text>
<line x1="442.5" x2="445.5" y1="333.1" y2="333.1" stroke="#222" stroke-width="1.1"/>
<text class="b" font-size="13" text-anchor="end" transform="translate(440.9,339.2) scale(1.02,1)">600</text>
<line x1="442.5" x2="445.5" y1="297.9" y2="297.9" stroke="#222" stroke-width="1.1"/>
<text class="b" font-size="13" text-anchor="end" transform="translate(440.9,304.0) scale(1.02,1)">800</text>
<text class="b" font-size="17" text-anchor="middle" transform="translate(408.4,369.9) rotate(-90) scale(0.753,1)">Trabecular BMD (mg/ccm)</text>
<line x1="458.3" x2="458.3" y1="350.8" y2="357.0" stroke="#222" stroke-width="1.1"/>
<line x1="455.1" x2="461.5" y1="350.8" y2="350.8" stroke="#222" stroke-width="1.1"/>
<rect x="452.7" y="357.0" width="11.2" height="81.7" fill="#fff" stroke="#222" stroke-width="1.1"/>
<text class="b" font-size="14" text-anchor="end" transform="translate(462.0,443) rotate(-90)">Vehicle</text>
<line x1="484.7" x2="484.7" y1="340.3" y2="344.7" stroke="#222" stroke-width="1.1"/>
<line x1="481.5" x2="487.9" y1="340.3" y2="340.3" stroke="#222" stroke-width="1.1"/>
<rect x="479.1" y="344.7" width="11.2" height="94.0" fill="#fff" stroke="#222" stroke-width="1.1"/>
<text font-size="17.5" text-anchor="middle" stroke="#000" stroke-width="0.25" transform="translate(483.9,340.4) scale(0.8,1)">*</text>
<text class="b" font-size="14" text-anchor="end" transform="translate(488.4,443) rotate(-90)">Low dose</text>
<line x1="511.1" x2="511.1" y1="333.8" y2="338.7" stroke="#222" stroke-width="1.1"/>
<line x1="507.9" x2="514.3" y1="333.8" y2="333.8" stroke="#222" stroke-width="1.1"/>
<rect x="505.5" y="338.7" width="11.2" height="100.0" fill="#fff" stroke="#222" stroke-width="1.1"/>
<text font-size="17.5" text-anchor="middle" stroke="#000" stroke-width="0.25" transform="translate(510.7,335.0) scale(0.8,1)">*</text>
<text class="b" font-size="14" text-anchor="end" transform="translate(514.8,443) rotate(-90)">High dose</text>
<line x1="563.9" x2="563.9" y1="363.2" y2="366.4" stroke="#222" stroke-width="1.1"/>
<line x1="560.7" x2="567.1" y1="363.2" y2="363.2" stroke="#222" stroke-width="1.1"/>
<rect x="558.0" y="366.4" width="11.8" height="72.3" fill="#000"/>
<text class="b" font-size="14" text-anchor="end" transform="translate(568.6,444.3) rotate(-90)">Basal</text>
<line x1="590.3" x2="590.3" y1="347.2" y2="354.4" stroke="#222" stroke-width="1.1"/>
<line x1="587.1" x2="593.5" y1="347.2" y2="347.2" stroke="#222" stroke-width="1.1"/>
<rect x="584.4" y="354.4" width="11.8" height="84.3" fill="#000"/>
<text font-size="13.2" stroke="#000" stroke-width="0.2" transform="translate(587.8,342.4) scale(0.72,1)">#</text>
<text class="b" font-size="14" text-anchor="end" transform="translate(595.0,444.3) rotate(-90)">Vehicle</text>
<line x1="616.7" x2="616.7" y1="333.6" y2="338.7" stroke="#222" stroke-width="1.1"/>
<line x1="613.5" x2="619.9" y1="333.6" y2="333.6" stroke="#222" stroke-width="1.1"/>
<rect x="610.8" y="338.7" width="11.8" height="100.0" fill="#000"/>
<text font-size="17.5" text-anchor="middle" stroke="#000" stroke-width="0.25" transform="translate(614.7,334.6) scale(0.8,1)">*</text>
<text font-size="13.2" stroke="#000" stroke-width="0.2" transform="translate(617.6,330.7) scale(0.72,1)">#</text>
<text class="b" font-size="14" text-anchor="end" transform="translate(621.4,444.3) rotate(-90)">CatK I</text>
<line x1="643.1" x2="643.1" y1="334.7" y2="340.2" stroke="#222" stroke-width="1.1"/>
<line x1="639.9" x2="646.3" y1="334.7" y2="334.7" stroke="#222" stroke-width="1.1"/>
<rect x="637.2" y="340.2" width="11.8" height="98.5" fill="#000"/>
<text font-size="17.5" text-anchor="middle" stroke="#000" stroke-width="0.25" transform="translate(641.2,333.8) scale(0.8,1)">*</text>
<text font-size="13.2" stroke="#000" stroke-width="0.2" transform="translate(644,329) scale(0.72,1)">#</text>
<text class="b" font-size="14" text-anchor="end" transform="translate(647.8,444.3) rotate(-90)">ZA</text>
<line x1="669.5" x2="669.5" y1="323.6" y2="326.7" stroke="#222" stroke-width="1.1"/>
<line x1="666.3" x2="672.7" y1="323.6" y2="323.6" stroke="#222" stroke-width="1.1"/>
<rect x="663.6" y="326.7" width="11.8" height="112.0" fill="#000"/>
<text font-size="17.5" text-anchor="middle" stroke="#000" stroke-width="0.25" transform="translate(666.5,323.7) scale(0.8,1)">*</text>
<text font-size="13.2" stroke="#000" stroke-width="0.2" transform="translate(669,318.8) scale(0.72,1)">#</text>
<text class="b" font-size="14" text-anchor="end" transform="translate(674.2,444.3) rotate(-90)">CatK I + ZA</text>
<line x1="451.4" x2="513.8" y1="520.3" y2="520.3" stroke="#222" stroke-width="1"/>
<text class="b" font-size="13.9" text-anchor="middle" x="484.8" y="535.1">Protocol I</text>
<line x1="568" x2="674.3" y1="520.3" y2="520.3" stroke="#222" stroke-width="1"/>
<text class="b" font-size="13.9" text-anchor="middle" x="623" y="534.6">Protocol II</text>
</svg></body></html>
